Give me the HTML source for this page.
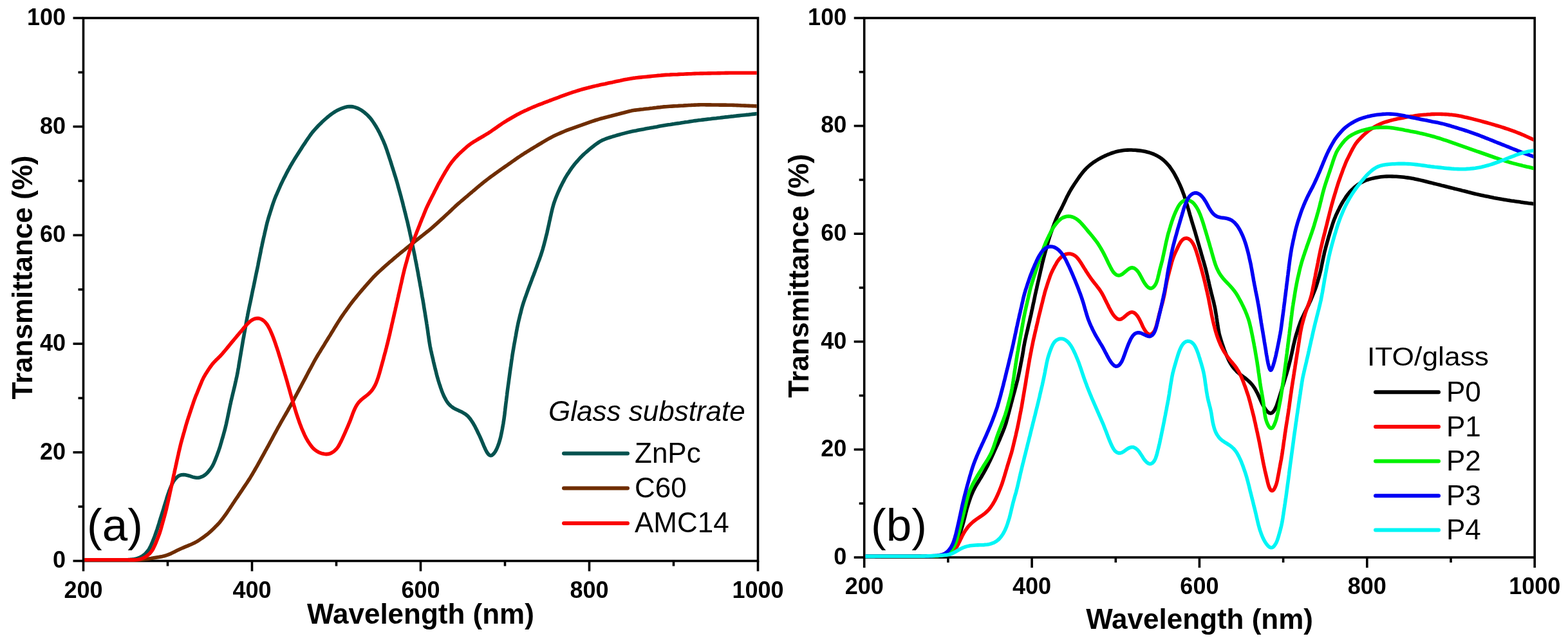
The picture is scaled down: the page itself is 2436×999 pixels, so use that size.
<!DOCTYPE html>
<html><head><meta charset="utf-8"><title>Transmittance spectra</title>
<style>html,body{margin:0;padding:0;background:#fff;width:2436px;height:999px;overflow:hidden}svg{display:block}</style>
</head><body>
<svg width="2436" height="999" viewBox="0 0 2436 999">
<rect width="2436" height="999" fill="#fff"/>
<g stroke="#000" stroke-width="3.6" stroke-linecap="butt"><line x1="113.5" y1="871.5" x2="129.5" y2="871.5"/><line x1="121.5" y1="787.1" x2="129.5" y2="787.1"/><line x1="113.5" y1="702.8" x2="129.5" y2="702.8"/><line x1="121.5" y1="618.5" x2="129.5" y2="618.5"/><line x1="113.5" y1="534.1" x2="129.5" y2="534.1"/><line x1="121.5" y1="449.8" x2="129.5" y2="449.8"/><line x1="113.5" y1="365.4" x2="129.5" y2="365.4"/><line x1="121.5" y1="281.0" x2="129.5" y2="281.0"/><line x1="113.5" y1="196.7" x2="129.5" y2="196.7"/><line x1="121.5" y1="112.4" x2="129.5" y2="112.4"/><line x1="113.5" y1="28.0" x2="129.5" y2="28.0"/><line x1="129.5" y1="871.5" x2="129.5" y2="887.5"/><line x1="260.5" y1="871.5" x2="260.5" y2="879.5"/><line x1="391.5" y1="871.5" x2="391.5" y2="887.5"/><line x1="522.5" y1="871.5" x2="522.5" y2="879.5"/><line x1="653.5" y1="871.5" x2="653.5" y2="887.5"/><line x1="784.5" y1="871.5" x2="784.5" y2="879.5"/><line x1="915.5" y1="871.5" x2="915.5" y2="887.5"/><line x1="1046.5" y1="871.5" x2="1046.5" y2="879.5"/><line x1="1177.5" y1="871.5" x2="1177.5" y2="887.5"/></g>
<rect x="129.5" y="28.0" width="1048.0" height="843.5" fill="none" stroke="#000" stroke-width="3.6"/>
<clipPath id="c129"><rect x="131.3" y="29.8" width="1044.4" height="849.5"/></clipPath>
<g clip-path="url(#c129)" fill="none" stroke-width="5.6" stroke-linejoin="round" stroke-linecap="round">
<path d="M130.0,869.8L133.0,869.8 136.0,869.8 139.0,869.8 142.0,869.8 145.0,869.8 148.0,869.7 151.0,869.7 154.0,869.7 157.0,869.7 160.0,869.7 163.0,869.7 166.0,869.7 169.0,869.7 172.0,869.7 175.0,869.7 178.0,869.7 181.0,869.7 184.0,869.7 187.0,869.7 190.0,869.8 193.0,869.8 196.0,869.7 199.0,869.6 202.0,869.4 205.0,869.1 208.0,868.7 210.9,868.2 213.8,867.4 216.6,866.4 219.2,865.1 221.7,863.5 224.1,861.7 226.3,859.7 228.3,857.5 230.1,855.2 231.8,852.7 233.2,850.1 234.5,847.4 235.7,844.6 236.9,841.8 238.0,839.0 239.1,836.2 240.2,833.4 241.2,830.6 242.2,827.8 243.2,824.9 244.2,822.1 245.1,819.2 246.0,816.4 246.9,813.5 247.7,810.7 248.6,807.8 249.5,804.9 250.4,802.1 251.3,799.2 252.2,796.3 253.1,793.5 254.0,790.6 254.8,787.8 255.7,784.9 256.6,782.0 257.5,779.2 258.4,776.3 259.2,773.4 260.1,770.6 261.1,767.7 262.1,764.9 263.1,762.0 264.2,759.2 265.3,756.4 266.6,753.6 267.9,750.8 269.3,748.2 271.0,745.7 272.9,743.4 274.9,741.4 277.2,739.6 279.6,738.4 282.2,737.7 285.0,737.5 287.8,737.8 290.8,738.4 293.7,739.2 296.6,740.2 299.5,741.1 302.4,741.8 305.2,742.3 308.1,742.2 310.8,741.7 313.5,740.7 316.1,739.4 318.5,737.8 320.8,735.9 322.9,733.7 324.8,731.4 326.7,729.0 328.4,726.5 330.0,724.0 331.4,721.3 332.6,718.6 333.8,715.8 334.9,713.1 336.0,710.3 337.1,707.4 338.1,704.6 339.2,701.8 340.1,699.0 341.1,696.1 342.0,693.3 342.8,690.4 343.7,687.5 344.5,684.6 345.3,681.8 346.2,678.9 347.0,676.0 347.8,673.1 348.6,670.2 349.4,667.3 350.1,664.4 350.8,661.5 351.5,658.6 352.1,655.7 352.8,652.7 353.4,649.8 354.0,646.9 354.6,643.9 355.2,641.0 355.8,638.1 356.4,635.1 357.0,632.2 357.6,629.3 358.3,626.3 358.9,623.4 359.6,620.5 360.3,617.6 361.0,614.6 361.7,611.7 362.4,608.8 363.1,605.9 363.8,603.0 364.5,600.1 365.2,597.2 365.8,594.2 366.5,591.3 367.1,588.4 367.8,585.4 368.4,582.5 369.0,579.6 369.5,576.6 370.0,573.7 370.6,570.7 371.0,567.8 371.5,564.8 372.0,561.8 372.5,558.9 373.0,555.9 373.5,553.0 374.0,550.0 374.5,547.1 375.0,544.1 375.5,541.1 376.0,538.2 376.5,535.2 377.0,532.3 377.5,529.3 378.0,526.4 378.6,523.4 379.1,520.5 379.6,517.5 380.2,514.6 380.7,511.6 381.2,508.7 381.8,505.7 382.3,502.8 382.8,499.8 383.4,496.9 383.9,493.9 384.5,491.0 385.0,488.0 385.6,485.1 386.2,482.2 386.8,479.2 387.4,476.3 388.0,473.4 388.7,470.4 389.3,467.5 389.9,464.6 390.5,461.6 391.1,458.7 391.7,455.7 392.3,452.8 392.9,449.9 393.6,446.9 394.2,444.0 394.8,441.1 395.4,438.1 396.0,435.2 396.6,432.3 397.2,429.3 397.8,426.4 398.4,423.5 399.1,420.5 399.7,417.6 400.3,414.7 400.9,411.7 401.4,408.8 402.0,405.8 402.6,402.9 403.2,400.0 403.8,397.0 404.4,394.1 405.0,391.1 405.5,388.2 406.1,385.3 406.8,382.3 407.4,379.4 408.0,376.5 408.7,373.5 409.3,370.6 410.0,367.7 410.7,364.8 411.3,361.8 412.0,358.9 412.7,356.0 413.3,353.1 414.0,350.2 414.7,347.3 415.5,344.3 416.3,341.5 417.1,338.6 418.0,335.7 418.9,332.9 419.8,330.0 420.7,327.1 421.6,324.3 422.5,321.4 423.4,318.6 424.4,315.7 425.4,312.9 426.4,310.1 427.5,307.3 428.6,304.5 429.8,301.8 431.0,299.0 432.2,296.3 433.4,293.5 434.6,290.8 435.8,288.0 437.1,285.3 438.4,282.6 439.7,279.9 441.0,277.2 442.4,274.6 443.8,271.9 445.1,269.2 446.5,266.6 447.9,263.9 449.4,261.3 450.8,258.7 452.3,256.1 453.8,253.5 455.4,250.9 456.9,248.4 458.5,245.8 460.1,243.3 461.7,240.8 463.3,238.2 464.9,235.7 466.5,233.2 468.2,230.6 469.8,228.1 471.4,225.6 473.1,223.1 474.8,220.6 476.4,218.1 478.1,215.7 479.8,213.2 481.5,210.7 483.3,208.3 485.1,205.9 487.0,203.6 489.0,201.4 491.0,199.2 493.0,197.0 495.1,194.8 497.2,192.7 499.4,190.6 501.5,188.5 503.7,186.5 506.0,184.5 508.3,182.5 510.6,180.6 512.9,178.8 515.3,177.0 517.8,175.3 520.3,173.6 522.9,172.1 525.6,170.8 528.3,169.5 531.1,168.3 533.9,167.3 536.8,166.4 539.7,165.8 542.6,165.5 545.6,165.6 548.5,165.9 551.3,166.6 554.1,167.6 556.9,168.7 559.5,170.1 562.1,171.7 564.5,173.4 566.9,175.3 569.2,177.3 571.3,179.3 573.4,181.5 575.4,183.7 577.3,186.1 579.0,188.5 580.7,191.0 582.3,193.5 583.9,196.0 585.4,198.6 586.9,201.2 588.3,203.9 589.7,206.5 591.0,209.2 592.3,211.9 593.5,214.7 594.8,217.4 596.0,220.1 597.1,222.9 598.3,225.7 599.3,228.5 600.3,231.3 601.3,234.1 602.2,237.0 603.2,239.8 604.1,242.7 605.0,245.5 606.0,248.4 606.9,251.2 607.8,254.1 608.7,257.0 609.6,259.8 610.5,262.7 611.4,265.5 612.3,268.4 613.2,271.3 614.1,274.1 615.0,277.0 615.8,279.9 616.7,282.7 617.5,285.6 618.3,288.5 619.1,291.4 619.9,294.3 620.7,297.2 621.5,300.1 622.3,303.0 623.1,305.8 623.8,308.7 624.6,311.6 625.4,314.5 626.1,317.4 626.8,320.4 627.6,323.3 628.3,326.2 629.0,329.1 629.8,332.0 630.5,334.9 631.2,337.8 631.9,340.7 632.7,343.6 633.4,346.5 634.0,349.5 634.7,352.4 635.4,355.3 636.0,358.2 636.7,361.2 637.3,364.1 638.0,367.0 638.6,369.9 639.2,372.9 639.9,375.8 640.5,378.7 641.1,381.7 641.7,384.6 642.3,387.5 642.9,390.5 643.5,393.4 644.1,396.4 644.7,399.3 645.2,402.2 645.8,405.2 646.4,408.1 647.0,411.1 647.5,414.0 648.1,417.0 648.6,419.9 649.2,422.8 649.7,425.8 650.2,428.7 650.8,431.7 651.3,434.6 651.9,437.6 652.4,440.5 652.9,443.5 653.5,446.4 654.0,449.4 654.5,452.3 655.0,455.3 655.5,458.3 656.0,461.2 656.6,464.2 657.1,467.1 657.6,470.1 658.1,473.0 658.5,476.0 659.0,478.9 659.5,481.9 660.0,484.9 660.5,487.8 660.9,490.8 661.4,493.7 661.9,496.7 662.4,499.7 662.8,502.6 663.3,505.6 663.7,508.6 664.2,511.5 664.6,514.5 665.0,517.5 665.4,520.4 665.9,523.4 666.3,526.4 666.7,529.3 667.2,532.3 667.7,535.2 668.2,538.2 668.8,541.1 669.4,544.1 670.1,547.0 670.7,549.9 671.4,552.8 672.1,555.8 672.8,558.7 673.4,561.6 674.1,564.5 674.8,567.4 675.5,570.3 676.2,573.3 677.0,576.2 677.7,579.1 678.4,582.0 679.2,584.9 680.0,587.8 680.8,590.6 681.7,593.5 682.6,596.4 683.6,599.2 684.5,602.1 685.5,604.9 686.5,607.7 687.6,610.5 688.8,613.3 690.0,616.1 691.4,618.7 692.8,621.4 694.3,623.9 696.1,626.3 698.0,628.5 700.1,630.6 702.4,632.4 704.9,634.1 707.5,635.5 710.2,636.8 712.9,638.1 715.7,639.3 718.3,640.6 720.9,642.1 723.4,643.7 725.7,645.5 727.8,647.6 729.7,649.8 731.5,652.2 733.2,654.7 734.8,657.2 736.3,659.8 737.8,662.4 739.1,665.1 740.5,667.8 741.8,670.5 743.1,673.2 744.4,675.9 745.7,678.6 746.9,681.4 748.1,684.2 749.3,687.0 750.5,689.9 751.7,692.8 753.0,695.7 754.3,698.5 755.7,701.2 757.2,703.7 758.8,705.8 760.4,707.2 762.2,707.8 764.0,707.4 765.8,706.1 767.6,704.2 769.3,701.9 770.8,699.2 772.1,696.4 773.3,693.5 774.4,690.6 775.4,687.6 776.3,684.7 777.1,681.7 777.9,678.8 778.5,675.9 779.1,672.9 779.7,670.0 780.3,667.0 780.8,664.1 781.3,661.2 781.9,658.2 782.3,655.2 782.8,652.3 783.2,649.3 783.6,646.3 784.0,643.4 784.3,640.4 784.7,637.4 785.0,634.4 785.4,631.5 785.7,628.5 786.1,625.5 786.5,622.5 786.8,619.6 787.2,616.6 787.6,613.6 787.9,610.6 788.3,607.7 788.7,604.7 789.1,601.7 789.5,598.7 789.9,595.8 790.3,592.8 790.7,589.8 791.1,586.9 791.5,583.9 791.9,580.9 792.3,577.9 792.7,575.0 793.1,572.0 793.6,569.0 794.0,566.1 794.4,563.1 794.8,560.1 795.3,557.2 795.7,554.2 796.1,551.2 796.6,548.3 797.1,545.3 797.6,542.4 798.1,539.4 798.6,536.5 799.1,533.5 799.7,530.6 800.2,527.6 800.7,524.7 801.3,521.7 801.8,518.8 802.3,515.8 802.9,512.9 803.4,509.9 804.0,507.0 804.6,504.0 805.2,501.1 805.9,498.2 806.6,495.3 807.3,492.4 808.0,489.4 808.8,486.5 809.5,483.6 810.2,480.7 811.0,477.8 811.8,474.9 812.7,472.1 813.6,469.2 814.6,466.4 815.5,463.6 816.6,460.7 817.6,457.9 818.6,455.1 819.6,452.3 820.6,449.5 821.7,446.6 822.7,443.8 823.8,441.0 824.8,438.2 825.9,435.4 826.9,432.6 828.0,429.8 829.1,427.0 830.1,424.2 831.2,421.4 832.2,418.6 833.3,415.8 834.3,413.0 835.3,410.1 836.3,407.3 837.4,404.5 838.4,401.7 839.4,398.9 840.4,396.0 841.3,393.2 842.2,390.3 843.1,387.5 843.9,384.6 844.7,381.7 845.5,378.8 846.2,375.9 847.0,373.0 847.7,370.1 848.4,367.2 849.2,364.3 849.9,361.4 850.5,358.4 851.2,355.5 851.8,352.6 852.5,349.7 853.1,346.7 853.7,343.8 854.4,340.9 855.0,337.9 855.7,335.0 856.3,332.1 857.0,329.2 857.7,326.2 858.4,323.3 859.2,320.4 860.0,317.6 860.9,314.7 861.9,311.9 862.9,309.1 864.0,306.3 865.1,303.5 866.3,300.7 867.4,298.0 868.7,295.2 869.9,292.5 871.2,289.8 872.6,287.1 873.9,284.4 875.3,281.8 876.7,279.1 878.1,276.5 879.7,273.9 881.2,271.4 882.9,268.9 884.5,266.4 886.2,263.9 887.9,261.4 889.7,259.0 891.5,256.6 893.4,254.3 895.3,252.0 897.3,249.8 899.3,247.5 901.3,245.3 903.4,243.2 905.5,241.1 907.7,239.0 910.0,237.0 912.2,235.1 914.5,233.1 916.8,231.2 919.2,229.3 921.5,227.4 923.9,225.6 926.3,223.8 928.7,222.1 931.2,220.4 933.8,218.9 936.4,217.6 939.2,216.5 941.9,215.4 944.8,214.4 947.6,213.5 950.5,212.6 953.4,211.7 956.2,210.9 959.1,210.0 962.0,209.2 964.9,208.4 967.8,207.6 970.7,206.9 973.6,206.1 976.5,205.4 979.4,204.7 982.3,204.1 985.3,203.4 988.2,202.9 991.2,202.3 994.1,201.7 997.1,201.2 1000.0,200.7 1003.0,200.1 1005.9,199.6 1008.9,199.1 1011.8,198.5 1014.8,198.0 1017.7,197.4 1020.7,196.9 1023.6,196.3 1026.5,195.8 1029.5,195.3 1032.5,194.8 1035.4,194.3 1038.4,193.8 1041.3,193.4 1044.3,192.9 1047.3,192.5 1050.2,192.0 1053.2,191.6 1056.2,191.2 1059.1,190.7 1062.1,190.3 1065.1,189.8 1068.0,189.4 1071.0,188.9 1074.0,188.5 1076.9,188.1 1079.9,187.6 1082.9,187.2 1085.8,186.8 1088.8,186.5 1091.8,186.1 1094.8,185.7 1097.7,185.4 1100.7,185.0 1103.7,184.7 1106.7,184.3 1109.6,184.0 1112.6,183.7 1115.6,183.3 1118.6,183.0 1121.6,182.6 1124.5,182.2 1127.5,181.9 1130.5,181.6 1133.5,181.2 1136.4,180.9 1139.4,180.6 1142.4,180.2 1145.4,179.9 1148.4,179.6 1151.3,179.3 1154.3,179.0 1157.3,178.7 1160.3,178.4 1163.3,178.1 1166.3,177.7 1169.2,177.4 1172.2,177.1 1175.2,176.8" stroke="#03524f"/>
<path d="M130.0,869.8L133.0,869.8 136.0,869.8 139.0,869.8 142.0,869.8 145.0,869.8 148.0,869.8 151.0,869.8 154.0,869.7 157.0,869.7 160.0,869.7 163.0,869.7 166.0,869.7 168.9,869.7 171.9,869.7 174.9,869.7 177.9,869.7 180.9,869.7 183.9,869.7 186.9,869.7 189.9,869.7 192.9,869.7 195.9,869.7 198.9,869.7 201.9,869.7 204.9,869.7 207.9,869.7 210.9,869.7 213.9,869.6 216.9,869.6 219.9,869.4 222.8,869.1 225.8,868.8 228.8,868.4 231.8,868.0 234.7,867.6 237.7,867.1 240.6,866.6 243.6,866.1 246.6,865.6 249.5,865.0 252.4,864.4 255.3,863.7 258.2,862.9 261.0,861.9 263.7,860.8 266.5,859.6 269.2,858.3 271.8,857.0 274.5,855.6 277.2,854.3 279.9,853.0 282.7,851.8 285.4,850.6 288.2,849.4 290.9,848.3 293.7,847.1 296.5,846.0 299.2,844.8 301.9,843.5 304.5,842.1 307.1,840.6 309.6,839.0 312.1,837.3 314.6,835.6 317.0,833.9 319.4,832.1 321.8,830.3 324.1,828.4 326.4,826.4 328.6,824.4 330.8,822.3 332.9,820.2 335.0,818.1 337.1,816.0 339.2,813.8 341.2,811.6 343.1,809.3 344.9,806.9 346.8,804.5 348.5,802.1 350.3,799.7 352.0,797.3 353.7,794.8 355.4,792.3 357.1,789.8 358.7,787.3 360.4,784.8 362.0,782.3 363.7,779.8 365.3,777.3 367.0,774.8 368.7,772.4 370.3,769.9 372.0,767.4 373.7,764.9 375.4,762.4 377.0,759.9 378.7,757.4 380.4,754.9 382.0,752.5 383.7,750.0 385.3,747.5 387.0,744.9 388.6,742.4 390.1,739.9 391.7,737.3 393.2,734.7 394.7,732.1 396.2,729.5 397.7,726.9 399.2,724.3 400.7,721.7 402.1,719.1 403.6,716.5 405.0,713.9 406.5,711.2 407.9,708.6 409.4,706.0 410.8,703.4 412.2,700.7 413.7,698.1 415.1,695.5 416.6,692.9 418.0,690.2 419.4,687.6 420.8,685.0 422.3,682.3 423.7,679.7 425.1,677.0 426.5,674.4 427.9,671.8 429.4,669.1 430.8,666.5 432.2,663.9 433.7,661.3 435.2,658.6 436.6,656.0 438.1,653.4 439.6,650.8 441.1,648.2 442.6,645.6 444.1,643.0 445.6,640.4 447.1,637.8 448.5,635.2 450.0,632.6 451.5,630.0 452.9,627.4 454.4,624.8 455.8,622.1 457.2,619.5 458.6,616.8 460.0,614.2 461.4,611.5 462.8,608.9 464.2,606.3 465.6,603.6 467.1,601.0 468.5,598.3 469.9,595.7 471.3,593.0 472.7,590.4 474.1,587.8 475.5,585.1 476.9,582.5 478.3,579.8 479.7,577.2 481.1,574.5 482.6,571.9 484.0,569.2 485.4,566.6 486.8,564.0 488.2,561.3 489.7,558.7 491.2,556.1 492.7,553.5 494.2,551.0 495.8,548.4 497.4,545.9 498.9,543.3 500.5,540.8 502.1,538.2 503.7,535.7 505.2,533.1 506.8,530.6 508.4,528.0 509.9,525.5 511.5,522.9 513.1,520.4 514.6,517.8 516.2,515.2 517.8,512.7 519.3,510.1 520.9,507.6 522.4,505.0 524.0,502.5 525.6,499.9 527.2,497.4 528.8,494.9 530.5,492.4 532.2,489.9 533.9,487.5 535.6,485.0 537.4,482.6 539.1,480.1 540.9,477.7 542.6,475.3 544.4,472.9 546.2,470.5 548.0,468.1 549.9,465.8 551.8,463.4 553.7,461.1 555.6,458.8 557.5,456.5 559.4,454.2 561.4,451.9 563.3,449.6 565.3,447.4 567.2,445.1 569.2,442.9 571.2,440.6 573.2,438.4 575.2,436.1 577.2,433.9 579.2,431.7 581.2,429.5 583.3,427.4 585.5,425.3 587.6,423.2 589.8,421.2 592.0,419.2 594.3,417.1 596.5,415.1 598.7,413.2 601.0,411.2 603.2,409.2 605.5,407.2 607.8,405.3 610.1,403.3 612.3,401.4 614.6,399.5 616.9,397.5 619.2,395.6 621.5,393.7 623.9,391.8 626.2,389.9 628.5,388.1 630.8,386.2 633.2,384.3 635.5,382.4 637.8,380.5 640.2,378.7 642.5,376.8 644.9,374.9 647.2,373.0 649.5,371.2 651.9,369.3 654.2,367.5 656.6,365.6 658.9,363.8 661.3,361.9 663.6,360.0 666.0,358.2 668.3,356.3 670.6,354.4 672.9,352.4 675.1,350.4 677.4,348.4 679.6,346.4 681.8,344.4 684.0,342.4 686.2,340.4 688.5,338.4 690.7,336.3 692.8,334.3 695.0,332.2 697.2,330.2 699.4,328.1 701.6,326.1 703.7,324.0 705.9,322.0 708.1,319.9 710.3,317.9 712.6,315.9 714.8,314.0 717.1,312.0 719.4,310.1 721.7,308.1 724.0,306.2 726.3,304.3 728.5,302.3 730.8,300.4 733.1,298.5 735.4,296.5 737.7,294.6 740.0,292.6 742.3,290.7 744.5,288.8 746.9,286.9 749.2,285.0 751.5,283.1 753.9,281.3 756.3,279.4 758.6,277.6 761.0,275.8 763.4,274.0 765.9,272.3 768.3,270.5 770.7,268.7 773.1,267.0 775.6,265.3 778.0,263.5 780.5,261.8 782.9,260.1 785.4,258.4 787.8,256.7 790.3,254.9 792.8,253.2 795.2,251.5 797.7,249.8 800.1,248.1 802.6,246.3 805.0,244.6 807.5,243.0 810.0,241.3 812.5,239.7 815.0,238.0 817.6,236.5 820.1,234.9 822.7,233.3 825.2,231.7 827.8,230.2 830.3,228.6 832.9,227.1 835.5,225.5 838.0,224.0 840.6,222.5 843.2,220.9 845.8,219.4 848.3,217.9 850.9,216.4 853.5,214.9 856.2,213.5 858.8,212.1 861.5,210.8 864.2,209.5 867.0,208.3 869.7,207.1 872.4,205.9 875.2,204.7 878.0,203.5 880.7,202.4 883.5,201.3 886.3,200.3 889.2,199.3 892.0,198.3 894.8,197.3 897.6,196.3 900.5,195.3 903.3,194.4 906.1,193.4 909.0,192.4 911.8,191.4 914.6,190.4 917.4,189.4 920.3,188.4 923.1,187.5 926.0,186.5 928.8,185.7 931.7,184.8 934.6,184.0 937.5,183.3 940.4,182.5 943.3,181.8 946.2,181.0 949.1,180.3 952.0,179.5 954.9,178.8 957.8,178.0 960.7,177.3 963.6,176.5 966.5,175.7 969.4,175.0 972.3,174.2 975.2,173.5 978.1,172.8 981.0,172.1 983.9,171.6 986.9,171.1 989.9,170.7 992.8,170.4 995.8,170.0 998.8,169.7 1001.8,169.3 1004.7,169.0 1007.7,168.7 1010.7,168.3 1013.7,168.0 1016.7,167.6 1019.6,167.3 1022.6,166.9 1025.6,166.6 1028.6,166.2 1031.5,165.9 1034.5,165.7 1037.5,165.5 1040.5,165.3 1043.5,165.1 1046.5,164.9 1049.5,164.7 1052.5,164.6 1055.4,164.4 1058.4,164.2 1061.4,164.1 1064.4,163.9 1067.4,163.7 1070.4,163.5 1073.4,163.4 1076.4,163.2 1079.4,163.1 1082.4,163.0 1085.4,162.9 1088.4,162.8 1091.4,162.8 1094.3,162.8 1097.3,162.9 1100.3,162.9 1103.3,162.9 1106.3,163.0 1109.3,163.0 1112.3,163.0 1115.3,163.0 1118.3,163.1 1121.3,163.1 1124.3,163.1 1127.3,163.1 1130.3,163.2 1133.3,163.2 1136.3,163.3 1139.3,163.4 1142.3,163.5 1145.3,163.6 1148.3,163.7 1151.3,163.9 1154.2,164.0 1157.2,164.1 1160.2,164.3 1163.2,164.4 1166.2,164.5 1169.2,164.6 1172.2,164.8 1175.2,164.9" stroke="#6f2d00"/>
<path d="M130.0,869.8L133.0,869.8 136.0,869.8 139.0,869.8 142.0,869.8 145.0,869.8 148.0,869.8 151.0,869.8 154.0,869.7 157.0,869.7 160.0,869.7 163.0,869.7 166.0,869.7 169.0,869.7 172.0,869.7 175.0,869.7 178.0,869.7 181.0,869.7 184.0,869.7 187.0,869.7 190.0,869.7 193.0,869.7 196.0,869.8 199.0,869.8 202.0,869.9 205.1,869.9 208.1,869.9 211.1,869.8 214.0,869.4 217.0,868.9 219.8,868.1 222.5,867.0 225.2,865.7 227.7,864.1 230.0,862.2 232.2,860.3 234.2,858.1 236.0,855.7 237.6,853.2 238.9,850.6 240.2,847.9 241.4,845.1 242.6,842.3 243.7,839.5 244.8,836.7 245.9,833.9 247.0,831.1 248.0,828.3 248.9,825.5 249.8,822.6 250.6,819.7 251.4,816.8 252.2,813.9 253.0,811.1 253.8,808.2 254.6,805.3 255.4,802.4 256.2,799.5 257.0,796.6 257.7,793.7 258.5,790.8 259.1,787.9 259.8,784.9 260.5,782.0 261.1,779.1 261.8,776.2 262.4,773.2 263.1,770.3 263.7,767.4 264.3,764.4 265.0,761.5 265.6,758.6 266.3,755.7 266.9,752.7 267.5,749.8 268.2,746.9 268.8,743.9 269.4,741.0 270.0,738.1 270.7,735.1 271.3,732.2 271.9,729.3 272.6,726.3 273.2,723.4 273.9,720.5 274.5,717.5 275.1,714.6 275.8,711.7 276.4,708.8 277.1,705.8 277.7,702.9 278.4,700.0 279.1,697.1 279.8,694.1 280.5,691.2 281.2,688.3 282.0,685.4 282.8,682.6 283.6,679.7 284.4,676.8 285.2,673.9 286.1,671.0 286.9,668.1 287.7,665.2 288.5,662.3 289.3,659.5 290.2,656.6 291.1,653.7 292.0,650.9 292.9,648.0 293.9,645.2 294.8,642.3 295.8,639.5 296.7,636.6 297.7,633.8 298.6,630.9 299.6,628.1 300.5,625.3 301.5,622.4 302.6,619.6 303.6,616.8 304.7,614.0 305.9,611.3 307.0,608.5 308.1,605.7 309.2,602.9 310.4,600.1 311.5,597.4 312.7,594.6 313.8,591.8 315.1,589.1 316.4,586.4 317.9,583.8 319.4,581.2 321.0,578.7 322.6,576.2 324.2,573.7 325.9,571.2 327.7,568.8 329.4,566.4 331.3,564.1 333.3,561.9 335.4,559.8 337.5,557.7 339.7,555.6 341.8,553.5 343.8,551.3 345.8,549.1 347.7,546.8 349.7,544.5 351.6,542.2 353.5,539.9 355.4,537.6 357.3,535.2 359.2,532.9 361.1,530.6 363.1,528.3 365.0,526.0 366.9,523.7 368.8,521.4 370.8,519.1 372.7,516.8 374.6,514.6 376.6,512.2 378.5,509.9 380.5,507.6 382.5,505.3 384.6,503.1 386.8,500.9 389.0,499.0 391.5,497.3 394.1,495.9 396.7,495.0 399.4,494.5 402.1,494.6 404.7,495.4 407.2,496.6 409.6,498.3 411.8,500.3 413.7,502.5 415.5,505.0 417.0,507.6 418.4,510.3 419.8,513.0 421.0,515.8 422.2,518.6 423.4,521.4 424.5,524.2 425.5,527.0 426.5,529.8 427.5,532.7 428.5,535.5 429.4,538.3 430.4,541.2 431.3,544.0 432.3,546.9 433.1,549.7 434.0,552.6 434.9,555.5 435.8,558.3 436.6,561.2 437.5,564.1 438.3,567.0 439.2,569.8 440.0,572.7 440.9,575.6 441.8,578.5 442.6,581.3 443.5,584.2 444.3,587.1 445.2,590.0 446.0,592.8 446.8,595.7 447.6,598.6 448.5,601.5 449.3,604.4 450.1,607.3 450.9,610.2 451.7,613.0 452.5,615.9 453.4,618.8 454.2,621.7 455.1,624.6 455.9,627.4 456.8,630.3 457.7,633.2 458.5,636.0 459.4,638.9 460.3,641.8 461.2,644.6 462.2,647.5 463.1,650.3 464.1,653.1 465.1,656.0 466.1,658.8 467.2,661.6 468.3,664.4 469.4,667.2 470.6,669.9 471.8,672.7 473.0,675.4 474.3,678.1 475.7,680.8 477.2,683.4 478.7,686.0 480.4,688.5 482.1,691.0 483.9,693.4 485.8,695.7 487.9,697.8 490.2,699.6 492.7,701.3 495.3,702.7 498.1,703.9 501.0,704.8 503.9,705.3 506.8,705.6 509.7,705.4 512.4,704.8 515.0,703.7 517.5,702.2 519.8,700.3 521.9,698.3 523.9,696.0 525.6,693.6 527.1,691.0 528.5,688.3 529.9,685.6 531.2,682.9 532.5,680.1 533.7,677.4 535.0,674.6 536.2,671.9 537.4,669.2 538.6,666.4 539.8,663.7 541.0,660.9 542.1,658.1 543.3,655.4 544.4,652.6 545.4,649.8 546.5,646.9 547.5,644.1 548.6,641.3 549.7,638.5 550.9,635.8 552.2,633.1 553.6,630.5 555.2,628.0 556.9,625.6 558.9,623.4 561.0,621.3 563.3,619.4 565.7,617.5 568.1,615.7 570.4,613.8 572.7,611.9 574.8,609.8 576.8,607.6 578.7,605.3 580.3,602.8 581.8,600.3 583.2,597.6 584.4,594.9 585.5,592.1 586.5,589.3 587.5,586.4 588.4,583.5 589.3,580.7 590.1,577.8 590.9,574.9 591.7,572.0 592.5,569.1 593.3,566.2 594.1,563.3 594.9,560.4 595.7,557.5 596.4,554.6 597.2,551.7 598.0,548.8 598.8,546.0 599.5,543.1 600.3,540.1 601.0,537.2 601.8,534.3 602.5,531.4 603.2,528.5 603.9,525.6 604.6,522.7 605.3,519.8 606.0,516.8 606.6,513.9 607.3,511.0 608.0,508.1 608.6,505.1 609.3,502.2 610.0,499.3 610.6,496.4 611.3,493.4 612.0,490.5 612.6,487.6 613.3,484.7 614.0,481.8 614.6,478.8 615.3,475.9 615.9,473.0 616.6,470.1 617.3,467.1 617.9,464.2 618.6,461.3 619.2,458.4 619.9,455.4 620.6,452.5 621.2,449.6 621.9,446.7 622.5,443.7 623.2,440.8 623.9,437.9 624.5,434.9 625.2,432.0 625.8,429.1 626.5,426.2 627.2,423.3 627.9,420.3 628.6,417.4 629.4,414.5 630.2,411.6 631.0,408.7 631.8,405.9 632.6,403.0 633.4,400.1 634.2,397.2 635.0,394.3 635.9,391.4 636.8,388.6 637.8,385.8 638.8,382.9 639.8,380.1 640.9,377.3 642.0,374.5 643.1,371.7 644.2,368.9 645.3,366.2 646.4,363.4 647.5,360.6 648.6,357.8 649.7,355.0 650.8,352.2 651.9,349.4 653.0,346.6 654.1,343.9 655.2,341.1 656.3,338.3 657.5,335.5 658.6,332.7 659.7,329.9 660.8,327.2 662.0,324.4 663.2,321.7 664.5,319.0 665.8,316.3 667.1,313.6 668.5,310.9 669.8,308.2 671.2,305.5 672.5,302.9 673.9,300.2 675.2,297.5 676.6,294.8 678.0,292.2 679.3,289.5 680.7,286.8 682.1,284.2 683.6,281.6 685.0,278.9 686.5,276.3 688.0,273.7 689.5,271.1 691.0,268.5 692.5,265.9 694.1,263.4 695.7,260.8 697.3,258.3 699.0,255.8 700.7,253.4 702.5,251.0 704.4,248.7 706.3,246.4 708.3,244.2 710.4,242.0 712.5,239.8 714.6,237.8 716.8,235.7 719.0,233.7 721.3,231.7 723.5,229.7 725.8,227.7 728.1,225.8 730.5,224.0 732.9,222.3 735.4,220.7 738.0,219.1 740.5,217.6 743.1,216.0 745.7,214.5 748.3,213.0 750.9,211.5 753.5,209.9 756.0,208.4 758.6,206.8 761.1,205.2 763.6,203.5 766.0,201.8 768.5,200.1 771.0,198.4 773.4,196.6 775.9,194.9 778.3,193.2 780.8,191.5 783.3,189.9 785.9,188.3 788.4,186.7 791.0,185.2 793.6,183.7 796.2,182.2 798.8,180.7 801.4,179.2 804.0,177.8 806.7,176.4 809.3,175.0 812.0,173.7 814.7,172.4 817.5,171.2 820.2,169.9 822.9,168.7 825.7,167.5 828.4,166.3 831.2,165.2 834.0,164.0 836.8,162.9 839.6,161.8 842.4,160.8 845.2,159.7 848.0,158.7 850.8,157.6 853.6,156.5 856.4,155.5 859.2,154.4 862.0,153.4 864.8,152.3 867.6,151.3 870.4,150.2 873.2,149.2 876.1,148.1 878.9,147.1 881.7,146.1 884.5,145.1 887.4,144.2 890.2,143.2 893.1,142.3 895.9,141.4 898.8,140.5 901.7,139.6 904.5,138.8 907.4,138.0 910.3,137.2 913.2,136.5 916.1,135.7 919.1,135.0 922.0,134.3 924.9,133.6 927.8,132.9 930.7,132.3 933.7,131.6 936.6,131.0 939.5,130.4 942.5,129.7 945.4,129.1 948.3,128.5 951.3,127.9 954.2,127.2 957.1,126.6 960.1,126.0 963.0,125.4 965.9,124.7 968.9,124.1 971.8,123.5 974.7,123.0 977.7,122.4 980.6,121.9 983.6,121.4 986.6,121.1 989.5,120.7 992.5,120.4 995.5,120.1 998.5,119.8 1001.5,119.5 1004.5,119.2 1007.5,118.9 1010.4,118.6 1013.4,118.3 1016.4,118.0 1019.4,117.7 1022.4,117.4 1025.4,117.2 1028.3,116.9 1031.3,116.6 1034.3,116.4 1037.3,116.2 1040.3,116.1 1043.3,115.9 1046.3,115.8 1049.3,115.7 1052.3,115.6 1055.3,115.4 1058.3,115.3 1061.3,115.2 1064.3,115.0 1067.3,114.9 1070.3,114.8 1073.3,114.7 1076.3,114.5 1079.3,114.4 1082.2,114.3 1085.2,114.2 1088.2,114.1 1091.2,114.1 1094.2,114.0 1097.2,114.0 1100.2,113.9 1103.2,113.9 1106.2,113.8 1109.2,113.8 1112.2,113.7 1115.2,113.6 1118.2,113.6 1121.2,113.5 1124.2,113.5 1127.2,113.4 1130.2,113.4 1133.2,113.3 1136.2,113.3 1139.2,113.3 1142.2,113.3 1145.2,113.3 1148.2,113.3 1151.2,113.3 1154.2,113.3 1157.2,113.3 1160.2,113.3 1163.2,113.3 1166.2,113.3 1169.2,113.3 1172.2,113.3 1175.2,113.3" stroke="#fa0000"/>
</g>
<g font-family='"Liberation Sans", Arial, Helvetica, sans-serif' font-weight="bold" font-size="36" fill="#000"><text x="102.0" y="882.3" text-anchor="end">0</text><text x="102.0" y="713.6" text-anchor="end">20</text><text x="102.0" y="544.9" text-anchor="end">40</text><text x="102.0" y="376.2" text-anchor="end">60</text><text x="102.0" y="207.5" text-anchor="end">80</text><text x="102.0" y="38.8" text-anchor="end">100</text><text x="129.5" y="928.5" text-anchor="middle">200</text><text x="391.5" y="928.5" text-anchor="middle">400</text><text x="653.5" y="928.5" text-anchor="middle">600</text><text x="915.5" y="928.5" text-anchor="middle">800</text><text x="1177.5" y="928.5" text-anchor="middle">1000</text></g>

<g font-family='"Liberation Sans", Arial, Helvetica, sans-serif' fill="#000">
<text x="653.5" y="969" font-size="44" font-weight="bold" text-anchor="middle">Wavelength (nm)</text>
<text transform="translate(49.5,431) rotate(-90)" font-size="44" font-weight="bold" text-anchor="middle">Transmittance (%)</text>
<text x="852" y="654" font-size="44" font-style="italic">Glass substrate</text>
<text x="986" y="719" font-size="44">ZnPc</text>
<text x="986" y="773" font-size="44">C60</text>
<text x="986" y="827" font-size="44">AMC14</text>
<text x="135" y="840" font-size="71">(a)</text>
</g>
<g stroke-width="6" stroke-linecap="round">
<line x1="876" y1="704.5" x2="975" y2="704.5" stroke="#03524f"/>
<line x1="876" y1="758.5" x2="975" y2="758.5" stroke="#6f2d00"/>
<line x1="876" y1="813" x2="975" y2="813" stroke="#fa0000"/>
</g>

<g stroke="#000" stroke-width="3.6" stroke-linecap="butt"><line x1="1326.7" y1="866.0" x2="1342.7" y2="866.0"/><line x1="1334.7" y1="782.2" x2="1342.7" y2="782.2"/><line x1="1326.7" y1="698.4" x2="1342.7" y2="698.4"/><line x1="1334.7" y1="614.6" x2="1342.7" y2="614.6"/><line x1="1326.7" y1="530.8" x2="1342.7" y2="530.8"/><line x1="1334.7" y1="447.0" x2="1342.7" y2="447.0"/><line x1="1326.7" y1="363.2" x2="1342.7" y2="363.2"/><line x1="1334.7" y1="279.4" x2="1342.7" y2="279.4"/><line x1="1326.7" y1="195.6" x2="1342.7" y2="195.6"/><line x1="1334.7" y1="111.8" x2="1342.7" y2="111.8"/><line x1="1326.7" y1="28.0" x2="1342.7" y2="28.0"/><line x1="1342.7" y1="866.0" x2="1342.7" y2="882.0"/><line x1="1472.9" y1="866.0" x2="1472.9" y2="874.0"/><line x1="1603.1" y1="866.0" x2="1603.1" y2="882.0"/><line x1="1733.3" y1="866.0" x2="1733.3" y2="874.0"/><line x1="1863.4" y1="866.0" x2="1863.4" y2="882.0"/><line x1="1993.6" y1="866.0" x2="1993.6" y2="874.0"/><line x1="2123.8" y1="866.0" x2="2123.8" y2="882.0"/><line x1="2254.0" y1="866.0" x2="2254.0" y2="874.0"/><line x1="2384.2" y1="866.0" x2="2384.2" y2="882.0"/></g>
<rect x="1342.7" y="28.0" width="1041.5" height="838.0" fill="none" stroke="#000" stroke-width="3.6"/>
<clipPath id="c1342"><rect x="1344.5" y="29.8" width="1037.9" height="844.0"/></clipPath>
<g clip-path="url(#c1342)" fill="none" stroke-width="5.6" stroke-linejoin="round" stroke-linecap="round">
<path d="M1342.7,864.4L1345.7,864.4 1348.7,864.4 1351.7,864.4 1354.7,864.4 1357.7,864.4 1360.7,864.4 1363.7,864.4 1366.7,864.4 1369.7,864.3 1372.7,864.3 1375.7,864.3 1378.7,864.3 1381.7,864.3 1384.7,864.3 1387.7,864.3 1390.7,864.3 1393.7,864.3 1396.7,864.3 1399.7,864.3 1402.7,864.3 1405.7,864.3 1408.6,864.3 1411.6,864.3 1414.6,864.3 1417.6,864.3 1420.6,864.3 1423.6,864.2 1426.6,864.2 1429.6,864.2 1432.6,864.2 1435.6,864.2 1438.6,864.2 1441.6,864.1 1444.6,864.1 1447.6,864.0 1450.6,863.9 1453.7,863.7 1456.7,863.5 1459.7,863.2 1462.6,862.7 1465.6,862.2 1468.5,861.4 1471.3,860.4 1473.9,859.1 1476.4,857.6 1478.7,855.8 1480.7,853.7 1482.5,851.4 1483.9,848.9 1485.2,846.2 1486.4,843.4 1487.5,840.6 1488.5,837.8 1489.5,834.9 1490.4,832.0 1491.4,829.2 1492.3,826.3 1493.2,823.4 1494.1,820.6 1495.0,817.7 1495.8,814.8 1496.6,811.9 1497.4,809.1 1498.1,806.2 1498.9,803.2 1499.6,800.3 1500.3,797.4 1501.1,794.5 1501.8,791.6 1502.6,788.7 1503.5,785.9 1504.3,783.0 1505.3,780.1 1506.2,777.3 1507.2,774.5 1508.2,771.6 1509.3,768.9 1510.5,766.1 1511.7,763.4 1513.0,760.7 1514.4,758.0 1515.8,755.4 1517.3,752.8 1518.9,750.2 1520.4,747.7 1522.0,745.1 1523.6,742.6 1525.1,740.0 1526.6,737.4 1528.1,734.8 1529.6,732.2 1531.0,729.6 1532.4,726.9 1533.8,724.3 1535.2,721.6 1536.5,718.9 1537.8,716.2 1539.1,713.5 1540.4,710.8 1541.6,708.1 1542.9,705.3 1544.1,702.6 1545.3,699.9 1546.6,697.1 1547.8,694.4 1549.1,691.7 1550.3,689.0 1551.5,686.2 1552.7,683.5 1553.9,680.7 1555.0,678.0 1556.2,675.2 1557.3,672.4 1558.5,669.6 1559.6,666.8 1560.6,664.1 1561.6,661.2 1562.6,658.4 1563.4,655.5 1564.2,652.6 1565.0,649.7 1565.8,646.8 1566.5,643.9 1567.3,641.0 1568.1,638.1 1568.8,635.2 1569.6,632.3 1570.4,629.4 1571.1,626.6 1571.9,623.7 1572.7,620.8 1573.4,617.9 1574.2,615.0 1575.0,612.1 1575.8,609.2 1576.6,606.3 1577.3,603.4 1578.1,600.5 1578.9,597.6 1579.6,594.7 1580.4,591.8 1581.1,588.9 1581.7,586.0 1582.4,583.0 1583.0,580.1 1583.6,577.2 1584.2,574.2 1584.8,571.3 1585.4,568.3 1585.9,565.4 1586.5,562.5 1587.1,559.5 1587.6,556.6 1588.2,553.6 1588.7,550.7 1589.2,547.7 1589.7,544.7 1590.1,541.8 1590.6,538.8 1591.2,535.9 1591.7,532.9 1592.3,530.0 1592.9,527.1 1593.6,524.1 1594.2,521.2 1594.9,518.3 1595.6,515.4 1596.3,512.5 1597.0,509.5 1597.6,506.6 1598.3,503.7 1599.0,500.8 1599.7,497.9 1600.3,494.9 1601.0,492.0 1601.7,489.1 1602.3,486.2 1602.9,483.2 1603.6,480.3 1604.2,477.4 1604.8,474.4 1605.4,471.5 1606.1,468.6 1606.7,465.6 1607.3,462.7 1607.9,459.8 1608.5,456.8 1609.2,453.9 1609.8,451.0 1610.5,448.1 1611.1,445.1 1611.8,442.2 1612.4,439.3 1613.1,436.4 1613.8,433.4 1614.4,430.5 1615.1,427.6 1615.8,424.7 1616.4,421.8 1617.1,418.8 1617.8,415.9 1618.5,413.0 1619.1,410.1 1619.8,407.2 1620.6,404.2 1621.3,401.3 1622.1,398.4 1622.8,395.5 1623.6,392.7 1624.4,389.8 1625.2,386.9 1626.0,384.0 1626.8,381.1 1627.6,378.2 1628.4,375.3 1629.2,372.4 1630.1,369.6 1631.0,366.7 1632.0,363.9 1633.0,361.0 1634.0,358.2 1635.0,355.4 1636.0,352.6 1637.1,349.8 1638.1,347.0 1639.2,344.2 1640.3,341.4 1641.5,338.6 1642.7,335.9 1644.1,333.2 1645.4,330.6 1646.8,327.9 1648.2,325.3 1649.6,322.6 1650.9,319.9 1652.2,317.2 1653.5,314.5 1654.8,311.8 1656.0,309.1 1657.3,306.4 1658.7,303.7 1660.1,301.1 1661.5,298.4 1663.0,295.8 1664.5,293.3 1666.1,290.7 1667.7,288.2 1669.3,285.7 1671.0,283.2 1672.7,280.7 1674.4,278.2 1676.1,275.7 1677.9,273.3 1679.7,270.9 1681.5,268.6 1683.4,266.2 1685.4,264.0 1687.4,261.8 1689.6,259.8 1691.8,257.8 1694.1,255.8 1696.5,254.0 1698.9,252.2 1701.4,250.6 1703.9,249.0 1706.5,247.4 1709.1,246.0 1711.8,244.6 1714.4,243.2 1717.2,241.9 1719.9,240.7 1722.7,239.6 1725.4,238.5 1728.3,237.5 1731.1,236.6 1734.0,235.7 1736.9,235.0 1739.8,234.4 1742.8,233.9 1745.7,233.5 1748.7,233.2 1751.7,233.1 1754.7,233.0 1757.7,233.0 1760.7,233.2 1763.7,233.3 1766.7,233.6 1769.7,233.9 1772.7,234.3 1775.6,234.8 1778.6,235.3 1781.5,236.0 1784.4,236.7 1787.2,237.6 1790.1,238.6 1792.8,239.7 1795.6,241.0 1798.2,242.4 1800.8,243.9 1803.3,245.5 1805.7,247.3 1808.0,249.2 1810.2,251.2 1812.3,253.4 1814.3,255.6 1816.3,257.8 1818.1,260.2 1819.8,262.7 1821.5,265.2 1823.1,267.7 1824.6,270.3 1826.0,272.9 1827.4,275.6 1828.8,278.2 1830.1,280.9 1831.4,283.6 1832.7,286.4 1833.9,289.1 1835.1,291.9 1836.2,294.6 1837.3,297.4 1838.3,300.2 1839.4,303.0 1840.3,305.9 1841.3,308.7 1842.2,311.6 1843.1,314.4 1843.9,317.3 1844.8,320.2 1845.6,323.1 1846.5,325.9 1847.3,328.8 1848.1,331.7 1848.9,334.6 1849.8,337.5 1850.6,340.3 1851.4,343.2 1852.3,346.1 1853.2,349.0 1854.1,351.8 1854.9,354.7 1855.8,357.6 1856.7,360.4 1857.5,363.3 1858.3,366.2 1859.2,369.1 1860.0,372.0 1860.8,374.8 1861.6,377.7 1862.5,380.6 1863.3,383.5 1864.1,386.4 1865.0,389.2 1865.8,392.1 1866.6,395.0 1867.5,397.9 1868.3,400.8 1869.1,403.6 1870.0,406.5 1870.8,409.4 1871.6,412.3 1872.4,415.2 1873.2,418.1 1873.9,421.0 1874.6,423.9 1875.3,426.8 1876.0,429.7 1876.6,432.6 1877.3,435.6 1878.0,438.5 1878.6,441.4 1879.3,444.3 1880.0,447.3 1880.7,450.2 1881.4,453.1 1882.1,456.0 1882.9,458.9 1883.6,461.8 1884.3,464.7 1885.1,467.6 1885.8,470.5 1886.4,473.4 1887.1,476.4 1887.7,479.3 1888.2,482.3 1888.7,485.2 1889.2,488.2 1889.7,491.1 1890.1,494.1 1890.6,497.1 1891.0,500.0 1891.5,503.0 1891.9,506.0 1892.4,508.9 1892.8,511.9 1893.4,514.8 1894.0,517.8 1894.7,520.7 1895.5,523.5 1896.3,526.4 1897.2,529.3 1898.1,532.1 1899.0,535.0 1900.0,537.8 1901.0,540.7 1902.0,543.5 1903.1,546.3 1904.2,549.0 1905.4,551.8 1906.6,554.6 1907.9,557.3 1909.1,560.0 1910.5,562.7 1912.0,565.3 1913.6,567.8 1915.3,570.2 1917.2,572.5 1919.2,574.7 1921.2,576.9 1923.4,579.0 1925.6,580.9 1928.0,582.8 1930.4,584.6 1932.8,586.3 1935.2,588.1 1937.5,590.0 1939.8,592.0 1941.9,594.1 1944.0,596.2 1945.9,598.5 1947.6,600.9 1949.3,603.4 1950.8,606.0 1952.2,608.6 1953.6,611.2 1954.9,614.0 1956.1,616.7 1957.4,619.5 1958.6,622.3 1959.9,625.1 1961.2,627.9 1962.7,630.6 1964.3,633.3 1966.0,635.9 1967.8,638.3 1969.8,640.2 1971.8,641.6 1973.7,642.1 1975.6,641.7 1977.4,640.4 1979.1,638.4 1980.6,636.0 1981.9,633.3 1983.2,630.4 1984.2,627.5 1985.2,624.5 1986.2,621.5 1987.1,618.6 1988.0,615.7 1988.9,612.8 1989.8,609.9 1990.7,607.0 1991.5,604.2 1992.4,601.3 1993.3,598.5 1994.2,595.6 1995.1,592.7 1995.9,589.9 1996.8,587.0 1997.7,584.2 1998.6,581.3 1999.4,578.4 2000.3,575.5 2001.1,572.7 2001.8,569.8 2002.6,566.9 2003.3,564.0 2004.1,561.0 2004.8,558.1 2005.5,555.2 2006.1,552.3 2006.8,549.4 2007.4,546.4 2008.1,543.5 2008.7,540.6 2009.3,537.6 2010.0,534.7 2010.7,531.8 2011.4,528.9 2012.1,526.0 2012.9,523.1 2013.7,520.2 2014.6,517.3 2015.5,514.5 2016.4,511.6 2017.3,508.8 2018.3,505.9 2019.3,503.1 2020.3,500.3 2021.4,497.5 2022.6,494.8 2023.9,492.1 2025.2,489.4 2026.5,486.7 2027.8,484.0 2029.2,481.3 2030.5,478.6 2031.9,476.0 2033.2,473.3 2034.4,470.5 2035.7,467.8 2036.9,465.1 2038.0,462.3 2039.2,459.5 2040.3,456.8 2041.4,454.0 2042.5,451.2 2043.6,448.4 2044.6,445.6 2045.5,442.7 2046.4,439.9 2047.3,437.0 2048.1,434.1 2048.9,431.2 2049.7,428.3 2050.4,425.4 2051.2,422.5 2051.9,419.6 2052.5,416.7 2053.1,413.7 2053.7,410.8 2054.3,407.9 2054.9,404.9 2055.5,402.0 2056.1,399.1 2056.8,396.1 2057.4,393.2 2058.1,390.3 2058.9,387.4 2059.6,384.5 2060.4,381.6 2061.2,378.7 2062.0,375.8 2062.8,372.9 2063.6,370.0 2064.4,367.1 2065.3,364.3 2066.1,361.4 2067.0,358.5 2067.9,355.7 2068.8,352.8 2069.7,350.0 2070.6,347.1 2071.6,344.3 2072.6,341.5 2073.8,338.7 2074.9,335.9 2076.1,333.2 2077.4,330.5 2078.7,327.8 2080.0,325.1 2081.3,322.4 2082.7,319.7 2084.1,317.1 2085.6,314.5 2087.2,311.9 2088.8,309.4 2090.4,306.9 2092.1,304.4 2093.9,302.0 2095.8,299.7 2097.8,297.4 2099.8,295.3 2102.0,293.2 2104.2,291.1 2106.5,289.2 2108.8,287.4 2111.3,285.7 2113.9,284.1 2116.5,282.7 2119.1,281.4 2121.9,280.2 2124.7,279.3 2127.6,278.4 2130.5,277.6 2133.4,276.9 2136.3,276.3 2139.3,275.7 2142.2,275.2 2145.2,274.8 2148.2,274.5 2151.2,274.3 2154.1,274.1 2157.1,274.0 2160.1,274.0 2163.1,274.1 2166.1,274.2 2169.1,274.3 2172.1,274.5 2175.1,274.7 2178.1,275.0 2181.1,275.3 2184.0,275.7 2187.0,276.1 2190.0,276.5 2192.9,277.1 2195.9,277.6 2198.8,278.2 2201.7,278.8 2204.7,279.4 2207.6,280.1 2210.5,280.8 2213.4,281.5 2216.3,282.2 2219.2,283.0 2222.2,283.7 2225.1,284.4 2228.0,285.2 2230.9,285.9 2233.8,286.6 2236.7,287.3 2239.6,288.1 2242.5,288.8 2245.4,289.5 2248.3,290.3 2251.2,291.0 2254.1,291.7 2257.0,292.4 2260.0,293.2 2262.9,293.9 2265.8,294.6 2268.7,295.3 2271.6,296.1 2274.5,296.8 2277.4,297.5 2280.3,298.3 2283.2,299.0 2286.1,299.8 2289.0,300.5 2291.9,301.2 2294.8,301.9 2297.8,302.6 2300.7,303.2 2303.6,303.8 2306.6,304.4 2309.5,305.0 2312.4,305.6 2315.4,306.2 2318.3,306.8 2321.3,307.4 2324.2,307.9 2327.2,308.5 2330.1,309.0 2333.1,309.6 2336.0,310.1 2339.0,310.5 2341.9,311.0 2344.9,311.4 2347.9,311.9 2350.8,312.3 2353.8,312.8 2356.8,313.2 2359.7,313.6 2362.7,314.1 2365.7,314.5 2368.6,314.9 2371.6,315.3 2374.6,315.7 2377.5,316.0 2380.5,316.4 2383.5,316.7" stroke="#000000"/>
<path d="M1342.7,864.4L1345.7,864.4 1348.7,864.4 1351.7,864.4 1354.7,864.4 1357.7,864.4 1360.7,864.4 1363.7,864.4 1366.7,864.4 1369.7,864.3 1372.7,864.3 1375.7,864.3 1378.7,864.3 1381.7,864.3 1384.7,864.3 1387.7,864.3 1390.7,864.3 1393.7,864.3 1396.7,864.3 1399.7,864.3 1402.7,864.3 1405.7,864.3 1408.7,864.3 1411.7,864.3 1414.7,864.3 1417.7,864.3 1420.7,864.3 1423.7,864.3 1426.7,864.3 1429.7,864.2 1432.7,864.2 1435.7,864.2 1438.7,864.2 1441.7,864.1 1444.7,864.0 1447.7,863.9 1450.7,863.8 1453.7,863.7 1456.7,863.5 1459.7,863.2 1462.7,862.8 1465.7,862.4 1468.6,861.8 1471.5,861.1 1474.4,860.1 1477.0,858.9 1479.5,857.5 1481.7,855.7 1483.7,853.6 1485.4,851.2 1486.9,848.7 1488.4,846.0 1489.7,843.3 1491.1,840.6 1492.4,837.9 1493.7,835.2 1495.0,832.4 1496.4,829.8 1497.9,827.2 1499.5,824.6 1501.2,822.2 1503.0,819.8 1504.8,817.5 1506.9,815.3 1509.0,813.2 1511.2,811.2 1513.6,809.3 1516.0,807.5 1518.4,805.8 1520.9,804.1 1523.4,802.4 1525.9,800.7 1528.3,798.9 1530.6,797.1 1532.8,795.1 1535.0,793.0 1536.9,790.8 1538.8,788.4 1540.5,786.0 1542.2,783.5 1543.7,780.9 1545.2,778.3 1546.6,775.7 1547.9,773.0 1549.2,770.2 1550.4,767.5 1551.6,764.8 1552.7,762.0 1553.9,759.2 1554.9,756.4 1556.0,753.6 1557.0,750.8 1557.9,747.9 1558.8,745.1 1559.7,742.2 1560.6,739.3 1561.4,736.4 1562.3,733.6 1563.1,730.7 1564.0,727.8 1564.8,724.9 1565.7,722.1 1566.6,719.2 1567.5,716.3 1568.3,713.5 1569.2,710.6 1570.1,707.7 1571.0,704.9 1571.8,702.0 1572.6,699.1 1573.3,696.2 1574.0,693.3 1574.7,690.4 1575.4,687.4 1576.1,684.5 1576.8,681.6 1577.5,678.7 1578.2,675.8 1578.8,672.8 1579.5,669.9 1580.2,667.0 1580.8,664.1 1581.4,661.1 1582.0,658.2 1582.6,655.2 1583.2,652.3 1583.8,649.4 1584.3,646.4 1584.9,643.5 1585.5,640.5 1586.1,637.6 1586.6,634.7 1587.2,631.7 1587.7,628.8 1588.2,625.8 1588.7,622.8 1589.2,619.9 1589.7,616.9 1590.2,614.0 1590.7,611.0 1591.2,608.1 1591.7,605.1 1592.2,602.1 1592.7,599.2 1593.2,596.2 1593.7,593.3 1594.1,590.3 1594.6,587.3 1595.1,584.4 1595.6,581.4 1596.1,578.5 1596.6,575.5 1597.1,572.6 1597.6,569.6 1598.1,566.6 1598.6,563.7 1599.1,560.7 1599.6,557.8 1600.2,554.8 1600.7,551.9 1601.3,548.9 1601.9,546.0 1602.4,543.0 1603.0,540.1 1603.6,537.2 1604.2,534.2 1604.8,531.3 1605.4,528.4 1606.1,525.4 1606.8,522.5 1607.4,519.6 1608.1,516.7 1608.8,513.7 1609.5,510.8 1610.1,507.9 1610.8,505.0 1611.5,502.1 1612.2,499.1 1612.8,496.2 1613.5,493.3 1614.2,490.4 1614.9,487.5 1615.7,484.6 1616.4,481.6 1617.1,478.7 1617.8,475.8 1618.5,472.9 1619.3,470.0 1620.0,467.1 1620.7,464.2 1621.4,461.3 1622.2,458.4 1622.9,455.5 1623.7,452.6 1624.6,449.7 1625.5,446.8 1626.4,444.0 1627.3,441.1 1628.2,438.3 1629.2,435.4 1630.2,432.6 1631.1,429.8 1632.2,427.0 1633.3,424.2 1634.6,421.5 1635.9,418.8 1637.3,416.1 1638.7,413.4 1640.2,410.8 1641.7,408.1 1643.3,405.6 1645.1,403.1 1647.1,400.9 1649.2,398.8 1651.6,397.1 1654.1,395.7 1656.8,394.7 1659.5,394.2 1662.2,394.2 1665.0,394.9 1667.6,395.9 1670.1,397.4 1672.3,399.2 1674.3,401.4 1676.2,403.7 1677.9,406.2 1679.6,408.8 1681.2,411.4 1682.8,414.0 1684.4,416.6 1686.0,419.1 1687.6,421.7 1689.3,424.2 1690.9,426.7 1692.6,429.2 1694.3,431.7 1696.0,434.1 1697.8,436.5 1699.6,438.9 1701.5,441.2 1703.4,443.6 1705.2,445.9 1707.0,448.3 1708.8,450.7 1710.4,453.2 1712.0,455.8 1713.4,458.4 1714.8,461.0 1716.1,463.7 1717.4,466.4 1718.8,469.1 1720.1,471.8 1721.5,474.5 1722.8,477.3 1724.3,480.0 1725.7,482.8 1727.3,485.5 1728.9,488.1 1730.7,490.5 1732.6,492.7 1734.6,494.5 1736.7,495.8 1738.9,496.3 1741.2,496.0 1743.5,494.8 1745.8,493.2 1748.1,491.2 1750.4,489.2 1752.8,487.3 1755.1,485.9 1757.4,485.0 1759.6,485.0 1761.8,485.9 1763.9,487.4 1765.8,489.4 1767.6,491.8 1769.2,494.4 1770.7,497.1 1772.1,500.0 1773.5,502.9 1774.8,505.9 1776.2,508.7 1777.7,511.5 1779.3,514.1 1781.1,516.4 1782.9,518.2 1784.8,519.4 1786.8,519.7 1788.8,519.0 1790.7,517.6 1792.4,515.6 1793.9,513.1 1795.1,510.3 1796.1,507.4 1797.0,504.3 1797.8,501.2 1798.5,498.2 1799.3,495.2 1800.0,492.2 1800.7,489.3 1801.5,486.3 1802.3,483.4 1803.0,480.5 1803.8,477.7 1804.7,474.8 1805.5,471.9 1806.3,469.0 1807.0,466.1 1807.7,463.2 1808.4,460.3 1809.0,457.4 1809.6,454.4 1810.1,451.5 1810.6,448.5 1811.2,445.6 1811.7,442.6 1812.3,439.7 1812.9,436.7 1813.6,433.8 1814.3,430.9 1815.0,428.0 1815.8,425.1 1816.5,422.2 1817.3,419.3 1818.1,416.4 1818.8,413.5 1819.6,410.6 1820.3,407.7 1821.2,404.8 1822.1,402.0 1823.1,399.2 1824.2,396.4 1825.4,393.6 1826.7,390.9 1828.0,388.1 1829.3,385.3 1830.6,382.5 1832.0,379.8 1833.5,377.1 1835.2,374.6 1837.1,372.6 1839.3,371.0 1841.6,370.2 1843.9,370.1 1846.3,370.9 1848.5,372.3 1850.5,374.2 1852.3,376.6 1853.9,379.3 1855.3,382.1 1856.5,385.0 1857.6,387.9 1858.6,390.8 1859.5,393.8 1860.4,396.7 1861.3,399.6 1862.1,402.5 1862.9,405.4 1863.7,408.3 1864.6,411.2 1865.4,414.0 1866.2,416.9 1867.0,419.8 1867.8,422.7 1868.5,425.6 1869.3,428.5 1870.1,431.4 1870.8,434.3 1871.5,437.2 1872.2,440.1 1872.9,443.1 1873.6,446.0 1874.2,448.9 1874.9,451.8 1875.6,454.7 1876.2,457.7 1876.9,460.6 1877.5,463.5 1878.1,466.5 1878.6,469.4 1879.2,472.4 1879.8,475.3 1880.3,478.3 1880.9,481.2 1881.5,484.1 1882.0,487.1 1882.6,490.0 1883.2,493.0 1883.9,495.9 1884.5,498.8 1885.2,501.7 1885.9,504.7 1886.7,507.6 1887.4,510.5 1888.2,513.4 1889.0,516.2 1889.9,519.1 1890.8,522.0 1891.8,524.8 1892.8,527.6 1893.9,530.4 1895.1,533.2 1896.2,535.9 1897.5,538.6 1898.9,541.3 1900.3,543.9 1901.8,546.5 1903.4,549.0 1905.1,551.5 1906.8,554.0 1908.6,556.4 1910.4,558.8 1912.3,561.1 1914.3,563.4 1916.2,565.7 1918.1,568.0 1919.9,570.4 1921.6,572.9 1923.2,575.4 1924.7,578.0 1926.1,580.6 1927.4,583.3 1928.7,586.0 1929.8,588.7 1930.9,591.5 1932.0,594.3 1933.0,597.2 1934.1,600.0 1935.1,602.8 1936.1,605.6 1937.0,608.5 1938.0,611.3 1939.0,614.2 1939.9,617.0 1940.7,619.9 1941.5,622.8 1942.3,625.7 1943.0,628.6 1943.8,631.5 1944.5,634.4 1945.3,637.3 1946.0,640.2 1946.7,643.1 1947.5,646.0 1948.2,648.9 1948.8,651.9 1949.5,654.8 1950.2,657.7 1950.8,660.6 1951.4,663.6 1952.1,666.5 1952.7,669.4 1953.4,672.3 1954.0,675.3 1954.6,678.2 1955.3,681.1 1955.9,684.1 1956.5,687.0 1957.1,690.0 1957.6,692.9 1958.2,695.8 1958.8,698.8 1959.3,701.7 1959.9,704.7 1960.5,707.6 1961.0,710.6 1961.6,713.5 1962.1,716.4 1962.7,719.4 1963.3,722.3 1963.9,725.2 1964.6,728.2 1965.2,731.1 1965.9,734.1 1966.6,737.0 1967.3,740.1 1968.0,743.1 1968.8,746.3 1969.5,749.4 1970.3,752.5 1971.2,755.4 1972.3,758.1 1973.4,760.3 1974.8,761.9 1976.1,762.5 1977.5,762.1 1978.9,760.7 1980.2,758.6 1981.4,756.0 1982.5,753.2 1983.4,750.2 1984.2,747.1 1984.8,744.0 1985.4,740.9 1986.0,737.9 1986.6,734.9 1987.1,731.9 1987.6,728.9 1988.2,726.0 1988.7,723.0 1989.3,720.1 1989.8,717.1 1990.4,714.2 1990.9,711.2 1991.4,708.3 1991.9,705.3 1992.3,702.4 1992.7,699.4 1993.2,696.4 1993.6,693.5 1994.0,690.5 1994.4,687.5 1994.8,684.6 1995.3,681.6 1995.7,678.6 1996.1,675.6 1996.5,672.7 1997.0,669.7 1997.4,666.7 1997.9,663.8 1998.3,660.8 1998.8,657.9 1999.3,654.9 1999.8,651.9 2000.2,649.0 2000.7,646.0 2001.2,643.1 2001.6,640.1 2002.0,637.1 2002.5,634.2 2002.9,631.2 2003.3,628.2 2003.7,625.2 2004.1,622.3 2004.5,619.3 2004.9,616.3 2005.3,613.4 2005.8,610.4 2006.2,607.4 2006.6,604.5 2007.1,601.5 2007.5,598.5 2008.0,595.6 2008.4,592.6 2008.9,589.6 2009.4,586.7 2009.8,583.7 2010.3,580.7 2010.7,577.8 2011.2,574.8 2011.7,571.9 2012.1,568.9 2012.6,565.9 2013.1,563.0 2013.5,560.0 2014.0,557.0 2014.5,554.1 2014.9,551.1 2015.4,548.2 2015.9,545.2 2016.3,542.2 2016.8,539.3 2017.3,536.3 2017.7,533.3 2018.2,530.4 2018.6,527.4 2019.1,524.4 2019.5,521.5 2020.0,518.5 2020.5,515.6 2021.1,512.6 2021.7,509.7 2022.3,506.8 2023.0,503.9 2023.8,501.0 2024.6,498.1 2025.4,495.2 2026.2,492.3 2027.1,489.4 2027.9,486.5 2028.9,483.7 2029.9,480.9 2030.9,478.0 2031.9,475.2 2032.9,472.4 2034.0,469.6 2034.9,466.8 2035.9,463.9 2036.7,461.0 2037.5,458.2 2038.1,455.2 2038.8,452.3 2039.3,449.4 2039.9,446.4 2040.5,443.5 2041.1,440.5 2041.6,437.6 2042.2,434.6 2042.8,431.7 2043.4,428.8 2043.9,425.8 2044.5,422.9 2045.1,419.9 2045.7,417.0 2046.3,414.1 2046.9,411.1 2047.5,408.2 2048.0,405.2 2048.6,402.3 2049.2,399.3 2049.8,396.4 2050.4,393.5 2051.0,390.5 2051.6,387.6 2052.3,384.7 2053.0,381.8 2053.7,378.8 2054.4,375.9 2055.1,373.0 2055.9,370.1 2056.6,367.2 2057.3,364.3 2058.1,361.4 2058.8,358.5 2059.5,355.6 2060.2,352.7 2061.0,349.7 2061.7,346.8 2062.4,343.9 2063.1,341.0 2063.9,338.1 2064.6,335.2 2065.3,332.3 2066.0,329.4 2066.8,326.5 2067.5,323.6 2068.3,320.7 2069.0,317.8 2069.9,314.9 2070.7,312.0 2071.5,309.1 2072.4,306.2 2073.2,303.4 2074.1,300.5 2075.0,297.6 2075.8,294.8 2076.7,291.9 2077.6,289.0 2078.5,286.2 2079.4,283.3 2080.4,280.5 2081.4,277.7 2082.4,274.8 2083.4,272.0 2084.5,269.2 2085.5,266.4 2086.5,263.6 2087.6,260.8 2088.7,258.0 2089.8,255.2 2090.9,252.4 2092.1,249.7 2093.4,247.0 2094.8,244.3 2096.1,241.6 2097.5,238.9 2098.8,236.2 2100.2,233.6 2101.6,230.9 2103.1,228.3 2104.6,225.7 2106.2,223.3 2108.0,220.9 2109.9,218.6 2111.9,216.4 2114.0,214.3 2116.1,212.1 2118.3,210.0 2120.5,208.0 2122.7,206.0 2125.0,204.1 2127.4,202.3 2129.9,200.6 2132.4,199.0 2134.9,197.4 2137.5,195.9 2140.2,194.5 2142.9,193.2 2145.6,192.0 2148.4,190.9 2151.2,189.9 2154.1,189.0 2156.9,188.2 2159.8,187.4 2162.7,186.6 2165.6,185.9 2168.6,185.2 2171.5,184.6 2174.4,184.0 2177.4,183.4 2180.3,182.9 2183.3,182.3 2186.2,181.8 2189.2,181.3 2192.2,180.8 2195.1,180.4 2198.1,179.9 2201.1,179.5 2204.0,179.1 2207.0,178.8 2210.0,178.5 2213.0,178.2 2216.0,178.0 2219.0,177.7 2222.0,177.6 2224.9,177.4 2227.9,177.4 2230.9,177.3 2233.9,177.3 2236.9,177.3 2239.9,177.4 2242.9,177.5 2245.9,177.6 2248.9,177.8 2251.9,178.1 2254.9,178.3 2257.9,178.7 2260.8,179.1 2263.8,179.5 2266.8,180.1 2269.7,180.6 2272.6,181.2 2275.6,181.9 2278.5,182.5 2281.4,183.2 2284.3,183.9 2287.2,184.6 2290.1,185.4 2293.0,186.1 2296.0,186.9 2298.9,187.6 2301.7,188.4 2304.6,189.2 2307.5,190.0 2310.4,190.8 2313.3,191.6 2316.2,192.4 2319.1,193.3 2322.0,194.1 2324.8,195.0 2327.7,195.8 2330.6,196.7 2333.4,197.6 2336.3,198.5 2339.1,199.5 2342.0,200.4 2344.8,201.4 2347.6,202.4 2350.5,203.4 2353.3,204.4 2356.1,205.5 2358.9,206.6 2361.6,207.7 2364.4,208.9 2367.2,210.0 2369.9,211.3 2372.6,212.5 2375.4,213.7 2378.1,215.0 2380.8,216.3 2383.5,217.6" stroke="#fa0000"/>
<path d="M1342.7,864.4L1345.7,864.4 1348.7,864.4 1351.7,864.4 1354.7,864.4 1357.7,864.4 1360.7,864.4 1363.7,864.4 1366.7,864.4 1369.7,864.3 1372.7,864.3 1375.7,864.3 1378.7,864.3 1381.7,864.3 1384.7,864.3 1387.7,864.3 1390.7,864.3 1393.7,864.3 1396.7,864.3 1399.7,864.3 1402.7,864.3 1405.7,864.3 1408.7,864.3 1411.7,864.3 1414.7,864.3 1417.7,864.3 1420.7,864.2 1423.7,864.2 1426.7,864.2 1429.7,864.2 1432.7,864.2 1435.7,864.2 1438.7,864.2 1441.7,864.2 1444.7,864.1 1447.7,864.0 1450.7,863.9 1453.7,863.8 1456.8,863.6 1459.8,863.3 1462.7,862.8 1465.6,862.1 1468.5,861.2 1471.1,860.0 1473.7,858.5 1476.0,856.8 1478.1,854.8 1480.0,852.6 1481.6,850.1 1483.0,847.5 1484.2,844.7 1485.3,841.9 1486.3,839.1 1487.2,836.2 1488.0,833.3 1488.8,830.4 1489.6,827.5 1490.4,824.6 1491.1,821.7 1491.9,818.8 1492.6,815.9 1493.4,813.0 1494.1,810.0 1494.8,807.1 1495.5,804.2 1496.2,801.3 1496.9,798.4 1497.6,795.5 1498.3,792.6 1499.0,789.6 1499.7,786.7 1500.4,783.8 1501.1,780.9 1501.8,778.0 1502.6,775.1 1503.4,772.2 1504.2,769.3 1505.1,766.4 1506.1,763.6 1507.2,760.9 1508.4,758.1 1509.7,755.4 1511.0,752.7 1512.4,750.1 1513.9,747.4 1515.3,744.8 1516.8,742.2 1518.3,739.6 1519.9,737.1 1521.4,734.5 1523.0,731.9 1524.6,729.4 1526.2,726.9 1527.8,724.3 1529.4,721.8 1531.0,719.3 1532.6,716.7 1534.2,714.2 1535.7,711.6 1537.2,709.0 1538.6,706.3 1539.9,703.6 1541.1,700.9 1542.2,698.1 1543.3,695.3 1544.3,692.5 1545.2,689.7 1546.2,686.8 1547.1,684.0 1548.0,681.1 1549.0,678.3 1550.0,675.5 1551.0,672.6 1552.1,669.8 1553.1,667.0 1554.2,664.2 1555.3,661.4 1556.4,658.6 1557.5,655.8 1558.6,653.0 1559.6,650.2 1560.6,647.4 1561.6,644.6 1562.5,641.7 1563.4,638.9 1564.2,636.0 1565.0,633.1 1565.8,630.2 1566.5,627.3 1567.3,624.4 1568.1,621.5 1568.8,618.6 1569.6,615.7 1570.3,612.8 1571.0,609.9 1571.6,606.9 1572.2,604.0 1572.7,601.0 1573.2,598.1 1573.6,595.1 1574.1,592.2 1574.5,589.2 1575.0,586.2 1575.4,583.3 1575.8,580.3 1576.3,577.3 1576.7,574.4 1577.2,571.4 1577.6,568.4 1578.1,565.5 1578.5,562.5 1579.0,559.5 1579.5,556.6 1579.9,553.6 1580.4,550.7 1580.9,547.7 1581.5,544.7 1582.0,541.8 1582.5,538.8 1583.0,535.9 1583.6,532.9 1584.1,530.0 1584.6,527.0 1585.2,524.1 1585.7,521.1 1586.2,518.2 1586.8,515.2 1587.3,512.3 1587.8,509.3 1588.3,506.4 1588.8,503.4 1589.4,500.5 1589.9,497.5 1590.4,494.6 1591.0,491.6 1591.6,488.7 1592.2,485.7 1592.8,482.8 1593.5,479.9 1594.1,477.0 1594.8,474.0 1595.5,471.1 1596.1,468.2 1596.8,465.3 1597.5,462.3 1598.1,459.4 1598.8,456.5 1599.5,453.6 1600.2,450.7 1600.9,447.8 1601.7,444.9 1602.6,442.0 1603.4,439.1 1604.3,436.3 1605.2,433.4 1606.1,430.5 1607.0,427.7 1608.0,424.8 1608.9,422.0 1609.8,419.1 1610.7,416.3 1611.6,413.4 1612.6,410.6 1613.5,407.7 1614.5,404.9 1615.5,402.0 1616.4,399.2 1617.4,396.4 1618.4,393.5 1619.4,390.7 1620.4,387.9 1621.4,385.1 1622.5,382.3 1623.6,379.5 1624.7,376.7 1626.0,374.0 1627.2,371.3 1628.5,368.6 1629.8,365.9 1631.2,363.2 1632.5,360.5 1633.9,357.8 1635.4,355.2 1637.0,352.6 1638.7,350.2 1640.6,347.8 1642.5,345.4 1644.6,343.2 1646.8,341.2 1649.1,339.4 1651.7,338.0 1654.4,337.0 1657.2,336.3 1660.0,336.1 1662.9,336.3 1665.6,336.9 1668.4,338.0 1671.0,339.4 1673.5,341.0 1675.8,342.9 1678.0,344.9 1680.1,347.1 1682.1,349.4 1684.1,351.7 1686.1,354.0 1688.0,356.3 1689.9,358.6 1691.8,360.9 1693.8,363.2 1695.7,365.5 1697.6,367.8 1699.5,370.2 1701.3,372.5 1703.1,374.9 1704.9,377.3 1706.5,379.8 1708.1,382.3 1709.7,384.9 1711.2,387.5 1712.7,390.1 1714.1,392.7 1715.5,395.4 1716.9,398.1 1718.2,400.8 1719.5,403.5 1720.8,406.2 1722.1,409.0 1723.5,411.8 1724.9,414.5 1726.3,417.3 1727.9,420.0 1729.5,422.5 1731.4,424.6 1733.5,426.4 1735.7,427.5 1738.1,427.9 1740.5,427.5 1742.9,426.3 1745.3,424.7 1747.6,422.7 1750.0,420.7 1752.4,418.7 1754.7,417.1 1757.0,416.1 1759.4,415.9 1761.6,416.5 1763.8,417.8 1765.9,419.6 1767.8,421.8 1769.5,424.3 1771.1,427.0 1772.6,429.8 1774.1,432.6 1775.6,435.5 1777.2,438.2 1778.9,440.9 1780.7,443.3 1782.6,445.4 1784.6,447.0 1786.7,447.9 1788.7,447.9 1790.8,447.0 1792.6,445.4 1794.3,443.3 1795.8,440.8 1796.9,438.0 1797.9,435.1 1798.7,432.1 1799.4,429.0 1800.2,426.0 1800.9,423.0 1801.6,420.0 1802.3,417.1 1803.1,414.2 1803.9,411.3 1804.6,408.4 1805.4,405.5 1806.1,402.6 1806.7,399.6 1807.4,396.7 1808.0,393.8 1808.6,390.9 1809.3,387.9 1809.9,385.0 1810.5,382.0 1811.1,379.1 1811.7,376.2 1812.4,373.3 1813.1,370.3 1813.8,367.4 1814.5,364.5 1815.3,361.6 1816.2,358.8 1817.0,355.9 1817.9,353.0 1818.7,350.1 1819.6,347.3 1820.5,344.4 1821.5,341.6 1822.5,338.8 1823.6,335.9 1824.7,333.1 1825.9,330.3 1827.2,327.5 1828.5,324.7 1829.9,321.9 1831.5,319.3 1833.2,316.8 1835.2,314.6 1837.4,312.8 1839.9,311.6 1842.5,310.9 1845.1,310.9 1847.8,311.5 1850.3,312.7 1852.7,314.4 1854.9,316.5 1856.8,318.9 1858.5,321.4 1860.1,324.0 1861.6,326.8 1862.9,329.5 1864.1,332.3 1865.2,335.1 1866.2,337.9 1867.2,340.7 1868.2,343.6 1869.1,346.4 1870.0,349.3 1870.9,352.2 1871.7,355.0 1872.6,357.9 1873.5,360.8 1874.3,363.7 1875.2,366.5 1876.0,369.4 1876.9,372.3 1877.7,375.2 1878.6,378.0 1879.4,380.9 1880.2,383.8 1881.1,386.7 1881.9,389.6 1882.7,392.4 1883.5,395.3 1884.3,398.2 1885.2,401.1 1886.0,404.0 1886.9,406.9 1887.8,409.7 1888.8,412.5 1889.9,415.3 1891.1,418.1 1892.4,420.7 1893.8,423.4 1895.4,425.9 1897.0,428.4 1898.8,430.8 1900.7,433.1 1902.7,435.4 1904.7,437.6 1906.8,439.7 1908.9,441.9 1911.0,444.1 1913.0,446.3 1914.9,448.5 1916.8,450.9 1918.6,453.3 1920.3,455.7 1921.9,458.3 1923.4,460.8 1924.9,463.5 1926.3,466.1 1927.7,468.7 1929.1,471.4 1930.4,474.1 1931.8,476.8 1933.0,479.5 1934.3,482.3 1935.4,485.0 1936.6,487.8 1937.6,490.6 1938.7,493.4 1939.6,496.2 1940.5,499.1 1941.3,502.0 1942.0,504.9 1942.7,507.8 1943.4,510.7 1944.0,513.7 1944.6,516.6 1945.2,519.5 1945.8,522.5 1946.4,525.4 1946.9,528.4 1947.5,531.3 1948.1,534.3 1948.6,537.2 1949.2,540.2 1949.7,543.1 1950.2,546.1 1950.7,549.0 1951.2,552.0 1951.7,554.9 1952.2,557.9 1952.7,560.8 1953.2,563.8 1953.6,566.8 1954.1,569.7 1954.5,572.7 1954.9,575.7 1955.3,578.6 1955.8,581.6 1956.2,584.6 1956.6,587.6 1957.0,590.5 1957.4,593.5 1957.8,596.5 1958.3,599.4 1958.8,602.4 1959.3,605.3 1959.9,608.3 1960.4,611.2 1960.9,614.2 1961.4,617.1 1961.9,620.1 1962.4,623.0 1962.8,626.0 1963.2,629.0 1963.5,631.9 1963.9,634.9 1964.2,638.0 1964.6,641.0 1965.1,644.1 1965.6,647.2 1966.3,650.3 1967.2,653.4 1968.2,656.3 1969.4,659.1 1970.7,661.7 1972.1,663.7 1973.5,665.1 1975.0,665.5 1976.4,664.9 1977.8,663.3 1979.1,661.1 1980.3,658.5 1981.4,655.6 1982.4,652.6 1983.3,649.6 1984.0,646.5 1984.7,643.5 1985.4,640.4 1986.0,637.4 1986.6,634.5 1987.2,631.5 1987.7,628.6 1988.3,625.6 1988.9,622.7 1989.4,619.8 1989.9,616.8 1990.4,613.9 1990.8,610.9 1991.3,607.9 1991.7,605.0 1992.1,602.0 1992.5,599.0 1993.0,596.1 1993.4,593.1 1993.8,590.1 1994.2,587.2 1994.7,584.2 1995.1,581.2 1995.5,578.2 1995.9,575.3 1996.3,572.3 1996.7,569.3 1997.1,566.4 1997.5,563.4 1997.9,560.4 1998.2,557.4 1998.6,554.5 1999.0,551.5 1999.4,548.5 1999.7,545.5 2000.1,542.6 2000.5,539.6 2000.8,536.6 2001.2,533.6 2001.6,530.7 2002.0,527.7 2002.3,524.7 2002.7,521.7 2003.1,518.8 2003.4,515.8 2003.8,512.8 2004.2,509.8 2004.6,506.8 2004.9,503.9 2005.3,500.9 2005.7,497.9 2006.0,494.9 2006.4,492.0 2006.8,489.0 2007.1,486.0 2007.5,483.0 2007.9,480.1 2008.3,477.1 2008.8,474.1 2009.2,471.2 2009.7,468.2 2010.2,465.3 2010.7,462.3 2011.2,459.3 2011.6,456.4 2012.1,453.4 2012.6,450.5 2013.1,447.5 2013.7,444.6 2014.2,441.6 2014.8,438.7 2015.4,435.7 2016.0,432.8 2016.7,429.9 2017.4,427.0 2018.1,424.0 2018.7,421.1 2019.4,418.2 2020.1,415.3 2020.9,412.4 2021.7,409.5 2022.5,406.6 2023.4,403.7 2024.3,400.9 2025.2,398.0 2026.2,395.2 2027.1,392.4 2028.1,389.5 2029.1,386.7 2030.0,383.8 2031.0,381.0 2032.0,378.2 2033.0,375.3 2034.0,372.5 2035.0,369.7 2036.0,366.9 2037.0,364.0 2038.0,361.2 2038.9,358.4 2039.9,355.5 2040.8,352.7 2041.7,349.8 2042.5,346.9 2043.4,344.0 2044.2,341.2 2045.1,338.3 2045.9,335.4 2046.7,332.5 2047.6,329.6 2048.4,326.8 2049.1,323.9 2049.9,321.0 2050.6,318.1 2051.3,315.1 2052.1,312.2 2052.8,309.3 2053.5,306.4 2054.2,303.5 2054.9,300.6 2055.7,297.7 2056.5,294.8 2057.3,291.9 2058.2,289.0 2059.1,286.2 2060.0,283.3 2061.0,280.5 2061.9,277.6 2062.9,274.8 2063.8,272.0 2064.8,269.1 2065.8,266.3 2066.7,263.4 2067.7,260.6 2068.6,257.7 2069.6,254.9 2070.5,252.0 2071.4,249.2 2072.4,246.3 2073.4,243.5 2074.5,240.7 2075.6,238.0 2076.9,235.3 2078.4,232.7 2080.0,230.2 2081.7,227.7 2083.5,225.3 2085.3,222.9 2087.2,220.6 2089.1,218.3 2091.2,216.2 2093.4,214.2 2095.7,212.4 2098.2,210.8 2100.8,209.3 2103.4,207.9 2106.1,206.6 2108.9,205.4 2111.6,204.3 2114.5,203.3 2117.4,202.5 2120.3,201.7 2123.2,200.9 2126.1,200.2 2129.0,199.6 2132.0,199.1 2134.9,198.7 2137.9,198.3 2140.9,198.1 2143.9,198.0 2146.9,197.9 2149.9,197.8 2152.9,197.9 2155.9,198.0 2158.8,198.3 2161.8,198.6 2164.8,199.0 2167.7,199.5 2170.7,200.0 2173.6,200.6 2176.6,201.1 2179.5,201.6 2182.5,202.2 2185.4,202.7 2188.4,203.3 2191.3,203.9 2194.3,204.4 2197.2,205.0 2200.2,205.6 2203.1,206.2 2206.0,206.9 2208.9,207.5 2211.9,208.2 2214.8,208.9 2217.7,209.7 2220.6,210.4 2223.5,211.2 2226.4,212.0 2229.3,212.8 2232.1,213.7 2235.0,214.5 2237.9,215.4 2240.7,216.3 2243.6,217.3 2246.4,218.2 2249.3,219.2 2252.1,220.2 2254.9,221.2 2257.7,222.2 2260.6,223.2 2263.4,224.1 2266.2,225.1 2269.1,226.1 2271.9,227.1 2274.7,228.1 2277.6,229.1 2280.4,230.1 2283.2,231.1 2286.0,232.1 2288.9,233.1 2291.7,234.1 2294.5,235.1 2297.4,236.0 2300.2,237.0 2303.0,238.0 2305.9,239.0 2308.7,240.0 2311.5,241.0 2314.3,242.0 2317.2,243.0 2320.0,244.0 2322.8,245.0 2325.7,245.9 2328.5,246.9 2331.4,247.9 2334.2,248.8 2337.1,249.7 2339.9,250.6 2342.8,251.4 2345.7,252.3 2348.6,253.1 2351.5,253.9 2354.4,254.6 2357.3,255.4 2360.2,256.1 2363.1,256.8 2366.0,257.6 2368.9,258.3 2371.8,259.0 2374.7,259.6 2377.7,260.3 2380.6,261.0 2383.5,261.7" stroke="#00f200"/>
<path d="M1342.7,864.4L1345.7,864.4 1348.7,864.4 1351.7,864.4 1354.7,864.4 1357.7,864.4 1360.7,864.4 1363.7,864.4 1366.7,864.4 1369.7,864.3 1372.7,864.3 1375.7,864.3 1378.7,864.3 1381.7,864.3 1384.7,864.3 1387.7,864.3 1390.7,864.3 1393.7,864.3 1396.7,864.3 1399.7,864.3 1402.6,864.3 1405.6,864.3 1408.6,864.3 1411.6,864.3 1414.6,864.3 1417.6,864.3 1420.6,864.3 1423.6,864.3 1426.6,864.3 1429.6,864.3 1432.6,864.2 1435.6,864.2 1438.6,864.1 1441.6,864.0 1444.6,863.9 1447.7,863.7 1450.7,863.5 1453.7,863.3 1456.7,863.0 1459.7,862.6 1462.5,862.1 1465.3,861.2 1467.8,860.0 1470.2,858.4 1472.4,856.5 1474.4,854.3 1476.2,852.0 1477.8,849.5 1479.2,846.8 1480.5,844.1 1481.6,841.3 1482.5,838.4 1483.4,835.5 1484.2,832.6 1485.0,829.7 1485.7,826.8 1486.4,823.9 1487.1,820.9 1487.8,818.0 1488.4,815.1 1489.1,812.2 1489.8,809.2 1490.4,806.3 1491.0,803.4 1491.7,800.5 1492.3,797.5 1492.9,794.6 1493.6,791.7 1494.2,788.7 1494.8,785.8 1495.5,782.9 1496.2,780.0 1496.9,777.1 1497.6,774.1 1498.3,771.2 1499.1,768.3 1499.8,765.4 1500.6,762.5 1501.4,759.6 1502.1,756.7 1502.9,753.8 1503.7,751.0 1504.5,748.1 1505.3,745.2 1506.1,742.3 1506.9,739.4 1507.8,736.5 1508.6,733.7 1509.5,730.8 1510.4,727.9 1511.3,725.1 1512.3,722.3 1513.3,719.4 1514.4,716.6 1515.5,713.8 1516.6,711.1 1517.7,708.3 1518.9,705.5 1520.1,702.8 1521.3,700.0 1522.5,697.3 1523.8,694.6 1525.0,691.9 1526.3,689.1 1527.6,686.4 1528.8,683.7 1530.0,681.0 1531.3,678.2 1532.5,675.5 1533.7,672.7 1534.9,670.0 1536.1,667.2 1537.2,664.5 1538.4,661.7 1539.5,658.9 1540.6,656.2 1541.7,653.4 1542.8,650.6 1543.8,647.8 1544.9,644.9 1545.9,642.1 1546.9,639.3 1547.9,636.5 1548.9,633.6 1549.8,630.8 1550.6,627.9 1551.5,625.0 1552.3,622.1 1553.1,619.3 1553.9,616.4 1554.7,613.5 1555.4,610.6 1556.2,607.7 1557.0,604.8 1557.7,601.9 1558.5,599.0 1559.2,596.1 1559.9,593.2 1560.7,590.3 1561.4,587.4 1562.1,584.4 1562.8,581.5 1563.5,578.6 1564.2,575.7 1565.0,572.8 1565.7,569.9 1566.4,567.0 1567.1,564.1 1567.8,561.1 1568.5,558.2 1569.2,555.3 1569.9,552.4 1570.6,549.5 1571.3,546.6 1572.0,543.7 1572.7,540.7 1573.3,537.8 1574.0,534.9 1574.6,532.0 1575.2,529.0 1575.9,526.1 1576.5,523.2 1577.1,520.2 1577.8,517.3 1578.4,514.4 1579.0,511.4 1579.6,508.5 1580.3,505.6 1580.9,502.7 1581.6,499.7 1582.2,496.8 1582.9,493.9 1583.5,491.0 1584.2,488.0 1584.9,485.1 1585.5,482.2 1586.2,479.3 1586.9,476.3 1587.5,473.4 1588.2,470.5 1588.9,467.6 1589.5,464.7 1590.2,461.7 1591.0,458.8 1591.7,455.9 1592.6,453.1 1593.4,450.2 1594.4,447.3 1595.3,444.5 1596.2,441.6 1597.2,438.8 1598.1,436.0 1599.1,433.1 1600.1,430.3 1601.1,427.5 1602.2,424.7 1603.3,421.9 1604.4,419.1 1605.6,416.4 1606.8,413.6 1607.9,410.9 1609.2,408.1 1610.4,405.3 1611.7,402.6 1613.1,399.9 1614.6,397.2 1616.2,394.6 1617.9,392.1 1619.7,389.8 1621.8,387.6 1624.1,385.8 1626.6,384.4 1629.2,383.4 1631.9,383.0 1634.6,383.2 1637.3,383.9 1639.9,385.1 1642.4,386.7 1644.8,388.5 1646.9,390.7 1648.9,393.0 1650.7,395.4 1652.4,397.9 1654.0,400.5 1655.5,403.1 1656.8,405.8 1658.1,408.5 1659.4,411.2 1660.7,413.9 1662.0,416.7 1663.2,419.4 1664.4,422.1 1665.6,424.9 1666.8,427.6 1667.9,430.4 1669.1,433.2 1670.3,435.9 1671.4,438.7 1672.5,441.5 1673.6,444.3 1674.7,447.1 1675.8,449.9 1676.8,452.7 1677.9,455.5 1678.9,458.3 1679.9,461.1 1680.9,464.0 1681.8,466.8 1682.7,469.7 1683.6,472.5 1684.4,475.4 1685.2,478.3 1686.0,481.2 1686.9,484.1 1687.7,486.9 1688.6,489.8 1689.5,492.7 1690.4,495.5 1691.5,498.3 1692.6,501.1 1693.8,503.8 1695.0,506.6 1696.3,509.3 1697.5,512.0 1698.9,514.7 1700.2,517.3 1701.6,520.0 1703.1,522.6 1704.6,525.2 1706.1,527.7 1707.7,530.3 1709.2,532.9 1710.8,535.4 1712.3,538.0 1713.8,540.6 1715.2,543.3 1716.6,546.0 1718.0,548.7 1719.5,551.4 1720.9,554.2 1722.4,556.9 1724.0,559.6 1725.7,562.2 1727.5,564.6 1729.4,566.6 1731.4,568.2 1733.4,569.1 1735.5,569.0 1737.5,568.1 1739.4,566.5 1741.1,564.3 1742.7,561.7 1744.0,558.9 1745.2,556.0 1746.3,553.1 1747.4,550.1 1748.4,547.2 1749.4,544.3 1750.5,541.5 1751.6,538.6 1752.7,535.7 1753.9,532.9 1755.2,530.0 1756.5,527.2 1758.0,524.5 1759.6,522.1 1761.4,519.9 1763.5,518.3 1765.8,517.2 1768.3,516.8 1771.0,517.1 1773.6,517.9 1776.3,519.2 1779.0,520.5 1781.5,521.7 1784.0,522.5 1786.4,522.6 1788.5,521.8 1790.5,520.4 1792.2,518.3 1793.6,515.9 1794.8,513.2 1795.8,510.2 1796.6,507.2 1797.4,504.2 1798.1,501.2 1798.9,498.2 1799.6,495.2 1800.3,492.3 1801.0,489.4 1801.7,486.5 1802.4,483.5 1803.1,480.6 1803.8,477.7 1804.4,474.8 1805.0,471.9 1805.7,468.9 1806.3,466.0 1807.0,463.1 1807.6,460.1 1808.2,457.2 1808.9,454.3 1809.5,451.3 1810.0,448.4 1810.6,445.5 1811.1,442.5 1811.6,439.6 1812.1,436.6 1812.6,433.6 1813.1,430.7 1813.5,427.7 1814.0,424.8 1814.5,421.8 1815.0,418.9 1815.6,415.9 1816.1,413.0 1816.7,410.0 1817.3,407.1 1817.9,404.1 1818.5,401.2 1819.1,398.3 1819.7,395.3 1820.3,392.4 1821.0,389.5 1821.6,386.6 1822.3,383.6 1823.0,380.7 1823.8,377.8 1824.5,374.9 1825.3,372.0 1826.1,369.1 1826.9,366.2 1827.7,363.4 1828.5,360.5 1829.3,357.6 1830.1,354.7 1831.0,351.8 1831.8,349.0 1832.7,346.1 1833.5,343.2 1834.4,340.3 1835.2,337.5 1836.1,334.6 1836.9,331.7 1837.8,328.8 1838.6,325.9 1839.5,323.0 1840.5,320.2 1841.5,317.3 1842.7,314.4 1844.0,311.6 1845.4,308.9 1847.0,306.3 1848.9,304.0 1851.1,302.1 1853.4,300.7 1855.9,299.9 1858.4,299.8 1860.9,300.5 1863.4,301.7 1865.7,303.5 1867.8,305.7 1869.7,308.0 1871.4,310.6 1873.1,313.2 1874.6,315.9 1876.1,318.6 1877.5,321.3 1879.0,323.9 1880.6,326.5 1882.3,329.0 1884.1,331.3 1886.1,333.3 1888.4,335.0 1890.8,336.4 1893.5,337.3 1896.4,337.9 1899.3,338.4 1902.3,338.8 1905.3,339.3 1908.1,340.0 1910.9,341.0 1913.4,342.3 1915.8,344.0 1918.0,345.9 1920.0,348.1 1921.9,350.4 1923.6,352.9 1925.2,355.5 1926.7,358.1 1928.0,360.8 1929.3,363.5 1930.6,366.2 1931.7,369.0 1932.8,371.8 1933.8,374.6 1934.8,377.5 1935.7,380.3 1936.5,383.2 1937.3,386.1 1938.1,389.0 1938.9,391.9 1939.6,394.8 1940.3,397.7 1940.9,400.6 1941.6,403.6 1942.2,406.5 1942.9,409.4 1943.5,412.4 1944.0,415.3 1944.6,418.2 1945.1,421.2 1945.6,424.1 1946.1,427.1 1946.7,430.1 1947.2,433.0 1947.7,436.0 1948.3,438.9 1948.8,441.8 1949.4,444.8 1950.0,447.7 1950.5,450.7 1951.1,453.6 1951.7,456.6 1952.3,459.5 1952.9,462.4 1953.4,465.4 1954.0,468.3 1954.5,471.3 1955.1,474.2 1955.6,477.2 1956.1,480.1 1956.5,483.1 1957.0,486.0 1957.5,489.0 1957.9,492.0 1958.4,494.9 1958.9,497.9 1959.3,500.9 1959.8,503.8 1960.3,506.8 1960.8,509.7 1961.3,512.7 1961.8,515.6 1962.3,518.6 1962.8,521.6 1963.3,524.5 1963.8,527.5 1964.2,530.4 1964.7,533.3 1965.2,536.3 1965.7,539.3 1966.2,542.2 1966.7,545.2 1967.1,548.2 1967.6,551.3 1968.2,554.3 1968.7,557.5 1969.3,560.6 1969.9,563.8 1970.6,566.8 1971.4,569.7 1972.1,572.2 1972.9,574.1 1973.8,575.2 1974.7,575.0 1975.6,573.8 1976.5,571.8 1977.5,569.3 1978.4,566.4 1979.3,563.4 1980.2,560.3 1980.9,557.2 1981.7,554.1 1982.4,551.1 1983.0,548.0 1983.7,545.1 1984.3,542.1 1984.9,539.2 1985.5,536.3 1986.1,533.3 1986.7,530.4 1987.2,527.5 1987.8,524.5 1988.3,521.6 1988.9,518.6 1989.4,515.7 1989.9,512.7 1990.3,509.8 1990.7,506.8 1991.1,503.8 1991.5,500.8 1991.9,497.9 1992.3,494.9 1992.7,491.9 1993.1,489.0 1993.5,486.0 1993.9,483.0 1994.3,480.0 1994.6,477.1 1995.0,474.1 1995.4,471.1 1995.8,468.1 1996.1,465.2 1996.5,462.2 1996.9,459.2 1997.3,456.2 1997.6,453.3 1998.0,450.3 1998.4,447.3 1998.7,444.3 1999.1,441.4 1999.5,438.4 1999.9,435.4 2000.2,432.5 2000.6,429.5 2001.0,426.5 2001.3,423.5 2001.7,420.6 2002.1,417.6 2002.4,414.6 2002.8,411.6 2003.2,408.7 2003.6,405.7 2004.0,402.7 2004.4,399.7 2004.9,396.8 2005.3,393.8 2005.8,390.9 2006.3,387.9 2006.8,385.0 2007.4,382.0 2008.0,379.1 2008.6,376.2 2009.2,373.2 2009.9,370.3 2010.5,367.4 2011.2,364.4 2011.8,361.5 2012.5,358.6 2013.2,355.7 2014.0,352.8 2014.8,349.9 2015.6,347.0 2016.5,344.2 2017.4,341.3 2018.3,338.5 2019.3,335.6 2020.2,332.8 2021.2,329.9 2022.2,327.1 2023.3,324.3 2024.4,321.5 2025.5,318.7 2026.7,316.0 2027.8,313.2 2029.1,310.5 2030.3,307.8 2031.6,305.1 2033.0,302.4 2034.3,299.7 2035.7,297.1 2037.1,294.4 2038.5,291.8 2039.9,289.1 2041.2,286.4 2042.5,283.7 2043.7,281.0 2045.0,278.3 2046.2,275.5 2047.4,272.8 2048.6,270.0 2049.8,267.3 2051.0,264.5 2052.1,261.7 2053.3,259.0 2054.4,256.2 2055.5,253.4 2056.7,250.7 2057.8,247.9 2059.0,245.1 2060.2,242.4 2061.4,239.6 2062.7,236.9 2064.0,234.2 2065.4,231.6 2066.8,228.9 2068.2,226.3 2069.7,223.7 2071.2,221.1 2072.7,218.5 2074.3,216.0 2076.1,213.6 2077.9,211.2 2079.8,208.9 2081.8,206.6 2083.8,204.4 2085.8,202.2 2087.9,200.1 2090.1,198.1 2092.5,196.2 2094.9,194.5 2097.4,192.8 2099.9,191.2 2102.5,189.7 2105.1,188.3 2107.8,186.9 2110.5,185.7 2113.3,184.6 2116.1,183.6 2119.0,182.7 2121.9,181.9 2124.7,181.1 2127.7,180.4 2130.6,179.7 2133.5,179.2 2136.5,178.7 2139.4,178.3 2142.4,178.0 2145.4,177.7 2148.4,177.4 2151.4,177.2 2154.4,177.0 2157.4,177.0 2160.3,177.1 2163.3,177.2 2166.3,177.5 2169.3,177.8 2172.3,178.2 2175.2,178.7 2178.2,179.2 2181.1,179.8 2184.0,180.5 2186.9,181.1 2189.9,181.8 2192.8,182.4 2195.7,183.0 2198.7,183.6 2201.6,184.2 2204.5,184.8 2207.5,185.4 2210.4,186.0 2213.4,186.6 2216.3,187.1 2219.3,187.7 2222.2,188.3 2225.1,188.9 2228.1,189.4 2231.0,190.0 2234.0,190.6 2236.9,191.3 2239.8,191.9 2242.7,192.6 2245.6,193.4 2248.5,194.2 2251.4,195.0 2254.2,195.9 2257.1,196.8 2260.0,197.6 2262.9,198.5 2265.7,199.4 2268.6,200.3 2271.4,201.1 2274.3,202.0 2277.2,203.0 2280.0,203.9 2282.9,204.8 2285.7,205.8 2288.5,206.8 2291.3,207.8 2294.2,208.8 2297.0,209.9 2299.8,211.0 2302.5,212.1 2305.3,213.2 2308.1,214.3 2310.9,215.4 2313.7,216.5 2316.5,217.6 2319.2,218.7 2322.0,219.9 2324.8,221.0 2327.6,222.1 2330.4,223.2 2333.2,224.3 2336.0,225.4 2338.7,226.5 2341.5,227.6 2344.3,228.7 2347.1,229.9 2349.9,231.0 2352.6,232.1 2355.4,233.2 2358.2,234.3 2361.0,235.4 2363.8,236.5 2366.6,237.6 2369.4,238.7 2372.2,239.7 2375.0,240.7 2377.8,241.7 2380.7,242.7 2383.5,243.7" stroke="#0000f5"/>
<path d="M1342.7,864.4L1345.7,864.4 1348.7,864.4 1351.7,864.4 1354.7,864.4 1357.7,864.4 1360.7,864.3 1363.7,864.3 1366.7,864.3 1369.7,864.3 1372.7,864.3 1375.7,864.3 1378.7,864.3 1381.7,864.3 1384.7,864.3 1387.7,864.3 1390.7,864.3 1393.7,864.2 1396.7,864.2 1399.7,864.2 1402.7,864.2 1405.7,864.2 1408.7,864.2 1411.7,864.2 1414.7,864.2 1417.7,864.2 1420.7,864.2 1423.7,864.2 1426.7,864.2 1429.7,864.2 1432.7,864.1 1435.7,864.1 1438.7,864.0 1441.7,863.9 1444.7,863.8 1447.7,863.6 1450.7,863.5 1453.7,863.3 1456.7,863.2 1459.7,863.0 1462.7,862.9 1465.7,862.7 1468.6,862.4 1471.6,862.1 1474.5,861.5 1477.3,860.7 1480.0,859.6 1482.6,858.3 1485.2,856.8 1487.8,855.3 1490.4,853.8 1493.0,852.4 1495.7,851.1 1498.5,850.0 1501.3,849.1 1504.2,848.4 1507.2,847.8 1510.1,847.5 1513.1,847.2 1516.1,847.0 1519.1,846.9 1522.1,846.8 1525.2,846.7 1528.2,846.6 1531.2,846.3 1534.1,846.0 1537.1,845.4 1539.9,844.7 1542.7,843.7 1545.4,842.4 1547.9,840.9 1550.3,839.1 1552.4,837.1 1554.4,834.9 1556.2,832.5 1557.9,830.0 1559.4,827.4 1560.8,824.7 1562.1,822.0 1563.3,819.2 1564.3,816.4 1565.3,813.6 1566.2,810.7 1567.1,807.9 1568.0,805.0 1568.8,802.1 1569.5,799.2 1570.2,796.3 1570.9,793.3 1571.6,790.4 1572.3,787.5 1573.0,784.6 1573.7,781.7 1574.5,778.8 1575.3,775.9 1576.1,773.0 1576.9,770.1 1577.8,767.2 1578.6,764.4 1579.3,761.5 1580.1,758.6 1580.8,755.6 1581.5,752.7 1582.1,749.8 1582.8,746.9 1583.5,744.0 1584.2,741.0 1584.8,738.1 1585.5,735.2 1586.2,732.3 1586.9,729.4 1587.6,726.4 1588.3,723.5 1589.0,720.6 1589.8,717.7 1590.5,714.8 1591.2,711.9 1591.9,709.0 1592.7,706.1 1593.4,703.2 1594.1,700.3 1594.9,697.3 1595.6,694.4 1596.3,691.5 1597.0,688.6 1597.8,685.7 1598.5,682.8 1599.2,679.9 1600.0,677.0 1600.7,674.1 1601.4,671.2 1602.1,668.3 1602.9,665.3 1603.6,662.4 1604.3,659.5 1605.0,656.6 1605.8,653.7 1606.5,650.8 1607.2,647.9 1608.0,645.0 1608.7,642.1 1609.4,639.2 1610.1,636.2 1610.9,633.3 1611.6,630.4 1612.3,627.5 1613.0,624.6 1613.7,621.7 1614.4,618.8 1615.1,615.8 1615.7,612.9 1616.4,610.0 1617.1,607.1 1617.8,604.2 1618.5,601.2 1619.2,598.3 1619.8,595.4 1620.5,592.5 1621.1,589.5 1621.7,586.6 1622.3,583.7 1622.9,580.7 1623.5,577.8 1624.0,574.8 1624.6,571.9 1625.2,568.9 1625.7,566.0 1626.3,563.1 1627.0,560.1 1627.7,557.2 1628.5,554.3 1629.4,551.4 1630.3,548.6 1631.3,545.7 1632.4,542.8 1633.5,539.9 1634.8,537.1 1636.1,534.5 1637.7,532.0 1639.6,529.9 1641.8,528.2 1644.3,527.0 1646.9,526.3 1649.6,526.3 1652.3,526.8 1654.8,528.0 1657.2,529.6 1659.5,531.6 1661.4,533.8 1663.2,536.3 1664.8,538.9 1666.3,541.5 1667.7,544.2 1669.0,547.0 1670.3,549.7 1671.5,552.5 1672.7,555.3 1673.8,558.0 1674.9,560.8 1676.0,563.6 1677.0,566.4 1678.0,569.3 1679.0,572.1 1679.9,574.9 1680.9,577.8 1681.8,580.6 1682.8,583.5 1683.7,586.3 1684.7,589.1 1685.8,592.0 1686.8,594.8 1687.9,597.6 1688.9,600.4 1690.0,603.2 1691.1,606.0 1692.2,608.8 1693.3,611.5 1694.5,614.3 1695.6,617.1 1696.8,619.8 1698.0,622.6 1699.2,625.3 1700.4,628.1 1701.6,630.8 1702.8,633.6 1704.0,636.3 1705.2,639.1 1706.4,641.8 1707.6,644.6 1708.8,647.3 1710.0,650.1 1711.2,652.8 1712.4,655.6 1713.6,658.3 1714.7,661.1 1715.8,663.9 1716.9,666.7 1718.0,669.5 1719.1,672.3 1720.1,675.1 1721.2,677.9 1722.3,680.7 1723.4,683.6 1724.6,686.4 1725.8,689.3 1727.1,692.1 1728.5,694.9 1730.0,697.5 1731.7,699.9 1733.6,701.8 1735.8,703.2 1738.1,704.0 1740.5,703.9 1743.0,703.1 1745.4,701.8 1747.9,700.0 1750.3,698.2 1752.8,696.6 1755.4,695.4 1757.9,694.7 1760.3,694.7 1762.7,695.6 1765.0,697.0 1767.2,698.9 1769.2,701.1 1771.0,703.7 1772.7,706.3 1774.5,709.1 1776.2,711.8 1778.0,714.4 1780.0,716.7 1782.1,718.7 1784.2,720.1 1786.4,720.7 1788.5,720.4 1790.5,719.3 1792.3,717.4 1793.8,715.1 1795.1,712.4 1796.1,709.5 1797.1,706.5 1797.9,703.5 1798.6,700.4 1799.4,697.4 1800.1,694.5 1800.8,691.5 1801.5,688.6 1802.1,685.7 1802.7,682.7 1803.4,679.8 1804.0,676.9 1804.6,673.9 1805.2,671.0 1805.8,668.1 1806.4,665.1 1807.0,662.2 1807.6,659.3 1808.2,656.3 1808.8,653.4 1809.3,650.4 1809.9,647.5 1810.5,644.5 1811.0,641.6 1811.6,638.7 1812.2,635.7 1812.7,632.8 1813.3,629.8 1813.9,626.9 1814.4,623.9 1815.0,621.0 1815.5,618.0 1816.0,615.1 1816.5,612.1 1816.9,609.1 1817.4,606.2 1817.9,603.2 1818.3,600.3 1818.8,597.3 1819.3,594.3 1819.8,591.4 1820.3,588.4 1820.8,585.5 1821.4,582.5 1822.0,579.6 1822.8,576.7 1823.5,573.8 1824.3,570.9 1825.1,568.1 1826.0,565.2 1826.8,562.3 1827.6,559.4 1828.5,556.5 1829.4,553.6 1830.3,550.7 1831.3,547.7 1832.4,544.8 1833.6,541.9 1834.9,539.1 1836.4,536.5 1838.1,534.1 1840.1,532.2 1842.3,530.8 1844.8,530.1 1847.3,530.2 1849.8,530.9 1852.0,532.4 1854.1,534.3 1855.8,536.6 1857.3,539.3 1858.6,542.1 1859.8,545.0 1860.9,547.9 1861.9,550.8 1862.8,553.8 1863.8,556.7 1864.6,559.6 1865.5,562.4 1866.4,565.3 1867.2,568.2 1868.0,571.1 1868.8,574.0 1869.5,576.9 1870.1,579.8 1870.7,582.7 1871.2,585.7 1871.7,588.6 1872.1,591.6 1872.5,594.6 1872.9,597.6 1873.4,600.5 1873.8,603.5 1874.2,606.5 1874.7,609.4 1875.2,612.4 1875.7,615.3 1876.3,618.3 1876.9,621.2 1877.6,624.1 1878.4,627.0 1879.1,629.9 1879.9,632.8 1880.6,635.7 1881.2,638.6 1881.8,641.6 1882.3,644.5 1882.7,647.5 1883.2,650.5 1883.6,653.4 1884.2,656.4 1884.8,659.3 1885.6,662.3 1886.4,665.2 1887.3,668.0 1888.4,670.8 1889.7,673.5 1891.2,676.0 1892.9,678.4 1894.7,680.7 1896.8,682.8 1899.1,684.6 1901.6,686.3 1904.1,687.9 1906.7,689.5 1909.2,691.1 1911.7,692.8 1914.0,694.7 1916.2,696.7 1918.1,698.9 1920.0,701.2 1921.6,703.7 1923.1,706.3 1924.5,708.9 1925.8,711.6 1927.1,714.4 1928.3,717.1 1929.4,719.9 1930.5,722.7 1931.5,725.5 1932.5,728.4 1933.5,731.2 1934.5,734.0 1935.4,736.9 1936.3,739.8 1937.1,742.6 1937.9,745.5 1938.7,748.4 1939.4,751.3 1940.2,754.2 1940.9,757.2 1941.6,760.1 1942.3,763.0 1943.1,765.9 1943.8,768.8 1944.5,771.7 1945.2,774.6 1946.0,777.5 1946.7,780.4 1947.4,783.3 1948.1,786.3 1948.9,789.2 1949.6,792.1 1950.3,795.0 1951.0,797.9 1951.7,800.8 1952.3,803.7 1953.0,806.7 1953.7,809.6 1954.4,812.5 1955.1,815.4 1955.9,818.3 1956.7,821.2 1957.6,824.1 1958.6,826.9 1959.6,829.8 1960.8,832.7 1962.0,835.6 1963.4,838.4 1964.9,841.2 1966.6,843.8 1968.3,846.2 1970.2,848.3 1972.1,849.9 1974.1,850.8 1976.0,850.8 1977.8,849.9 1979.6,848.2 1981.2,845.9 1982.7,843.3 1983.9,840.5 1985.0,837.6 1985.9,834.6 1986.8,831.6 1987.6,828.6 1988.5,825.7 1989.2,822.8 1990.0,819.8 1990.7,816.9 1991.3,814.0 1991.9,811.1 1992.4,808.1 1992.9,805.2 1993.3,802.2 1993.8,799.2 1994.2,796.3 1994.7,793.3 1995.1,790.3 1995.6,787.4 1996.0,784.4 1996.5,781.4 1996.9,778.5 1997.3,775.5 1997.8,772.5 1998.2,769.6 1998.6,766.6 1999.0,763.6 1999.4,760.7 1999.8,757.7 2000.2,754.7 2000.6,751.7 2001.0,748.8 2001.4,745.8 2001.8,742.8 2002.2,739.8 2002.6,736.9 2002.9,733.9 2003.3,730.9 2003.7,728.0 2004.1,725.0 2004.5,722.0 2004.9,719.0 2005.3,716.1 2005.7,713.1 2006.1,710.1 2006.5,707.1 2006.9,704.2 2007.3,701.2 2007.7,698.2 2008.1,695.3 2008.5,692.3 2008.9,689.3 2009.3,686.3 2009.7,683.4 2010.1,680.4 2010.5,677.4 2010.9,674.5 2011.3,671.5 2011.8,668.5 2012.2,665.5 2012.6,662.6 2013.0,659.6 2013.4,656.6 2013.9,653.7 2014.3,650.7 2014.7,647.7 2015.1,644.8 2015.6,641.8 2016.0,638.8 2016.4,635.9 2016.9,632.9 2017.3,629.9 2017.7,627.0 2018.2,624.0 2018.6,621.0 2019.1,618.1 2019.5,615.1 2020.0,612.1 2020.4,609.2 2020.8,606.2 2021.3,603.2 2021.7,600.3 2022.2,597.3 2022.6,594.3 2023.1,591.4 2023.6,588.4 2024.2,585.5 2024.8,582.6 2025.5,579.6 2026.2,576.7 2026.8,573.8 2027.5,570.9 2028.2,567.9 2028.9,565.0 2029.6,562.1 2030.2,559.2 2030.9,556.3 2031.6,553.3 2032.3,550.4 2032.9,547.5 2033.6,544.6 2034.2,541.6 2034.9,538.7 2035.5,535.8 2036.2,532.9 2036.8,529.9 2037.5,527.0 2038.2,524.1 2038.8,521.1 2039.5,518.2 2040.1,515.3 2040.8,512.4 2041.5,509.5 2042.2,506.5 2042.9,503.6 2043.6,500.7 2044.4,497.8 2045.1,494.9 2045.8,492.0 2046.6,489.1 2047.3,486.2 2048.0,483.3 2048.8,480.4 2049.5,477.5 2050.2,474.5 2050.9,471.6 2051.6,468.7 2052.3,465.8 2052.8,462.8 2053.4,459.9 2053.9,456.9 2054.5,454.0 2055.0,451.0 2055.5,448.1 2056.0,445.1 2056.5,442.2 2057.0,439.2 2057.5,436.3 2058.0,433.3 2058.6,430.4 2059.1,427.4 2059.6,424.4 2060.2,421.5 2060.7,418.6 2061.3,415.6 2061.8,412.7 2062.4,409.7 2063.0,406.8 2063.6,403.8 2064.2,400.9 2064.8,398.0 2065.5,395.0 2066.2,392.1 2066.9,389.2 2067.7,386.3 2068.4,383.4 2069.2,380.5 2070.0,377.6 2070.8,374.7 2071.6,371.8 2072.4,369.0 2073.2,366.1 2074.1,363.2 2075.0,360.3 2075.8,357.5 2076.7,354.6 2077.6,351.7 2078.5,348.9 2079.5,346.0 2080.5,343.2 2081.5,340.4 2082.6,337.6 2083.7,334.8 2084.9,332.1 2086.0,329.3 2087.2,326.5 2088.4,323.8 2089.7,321.1 2091.0,318.4 2092.4,315.7 2093.8,313.1 2095.2,310.5 2096.7,307.9 2098.3,305.3 2099.8,302.7 2101.4,300.2 2103.1,297.7 2104.8,295.2 2106.6,292.8 2108.4,290.4 2110.2,288.0 2112.1,285.7 2113.9,283.3 2115.8,281.0 2117.8,278.7 2119.7,276.4 2121.7,274.2 2123.7,271.9 2125.8,269.8 2128.0,267.7 2130.2,265.7 2132.6,263.8 2135.0,262.1 2137.5,260.5 2140.1,259.2 2142.8,258.1 2145.6,257.2 2148.5,256.6 2151.5,256.0 2154.4,255.6 2157.4,255.3 2160.4,255.0 2163.4,254.8 2166.4,254.7 2169.4,254.5 2172.5,254.4 2175.5,254.4 2178.5,254.4 2181.5,254.4 2184.4,254.5 2187.4,254.6 2190.4,254.8 2193.4,255.0 2196.4,255.3 2199.4,255.6 2202.4,255.9 2205.3,256.3 2208.3,256.7 2211.3,257.1 2214.3,257.5 2217.2,258.0 2220.2,258.4 2223.2,258.8 2226.1,259.1 2229.1,259.5 2232.1,259.8 2235.1,260.1 2238.1,260.4 2241.0,260.7 2244.0,261.1 2247.0,261.4 2250.0,261.6 2253.0,261.9 2256.0,262.2 2259.0,262.4 2262.0,262.5 2265.0,262.6 2267.9,262.7 2270.9,262.7 2273.9,262.7 2276.9,262.6 2279.9,262.4 2282.9,262.2 2285.9,261.9 2288.9,261.6 2291.9,261.3 2294.8,260.8 2297.8,260.3 2300.7,259.7 2303.6,259.0 2306.5,258.3 2309.4,257.5 2312.3,256.7 2315.2,255.9 2318.1,255.0 2320.9,254.0 2323.7,253.0 2326.6,252.0 2329.4,251.0 2332.2,249.9 2335.0,248.9 2337.8,247.8 2340.6,246.6 2343.3,245.5 2346.1,244.4 2348.9,243.3 2351.7,242.3 2354.5,241.2 2357.4,240.2 2360.2,239.2 2363.0,238.3 2365.9,237.4 2368.8,236.6 2371.7,235.9 2374.6,235.3 2377.6,234.8 2380.5,234.2 2383.5,233.7" stroke="#00f5f5"/>
</g>
<g font-family='"Liberation Sans", Arial, Helvetica, sans-serif' font-weight="bold" font-size="36" fill="#000"><text x="1315.2" y="876.8" text-anchor="end">0</text><text x="1315.2" y="709.2" text-anchor="end">20</text><text x="1315.2" y="541.6" text-anchor="end">40</text><text x="1315.2" y="374.0" text-anchor="end">60</text><text x="1315.2" y="206.4" text-anchor="end">80</text><text x="1315.2" y="38.8" text-anchor="end">100</text><text x="1342.7" y="923.0" text-anchor="middle">200</text><text x="1603.1" y="923.0" text-anchor="middle">400</text><text x="1863.4" y="923.0" text-anchor="middle">600</text><text x="2123.8" y="923.0" text-anchor="middle">800</text><text x="2384.2" y="923.0" text-anchor="middle">1000</text></g>

<g font-family='"Liberation Sans", Arial, Helvetica, sans-serif' fill="#000">
<text x="1863.6" y="976.5" font-size="44" font-weight="bold" text-anchor="middle">Wavelength (nm)</text>
<text transform="translate(1255.5,428.5) rotate(-90)" font-size="44" font-weight="bold" text-anchor="middle">Transmittance (%)</text>
<text x="2124" y="568.3" font-size="41.5" textLength="189" lengthAdjust="spacingAndGlyphs">ITO/glass</text>
<text x="2247" y="624" font-size="44">P0</text>
<text x="2247" y="677.5" font-size="44">P1</text>
<text x="2247" y="731" font-size="44">P2</text>
<text x="2247" y="784.5" font-size="44">P3</text>
<text x="2247" y="838" font-size="44">P4</text>
<text x="1353" y="839.5" font-size="71">(b)</text>
</g>
<g stroke-width="6" stroke-linecap="round">
<line x1="2137" y1="609.2" x2="2235" y2="609.2" stroke="#000000"/>
<line x1="2137" y1="663" x2="2235" y2="663" stroke="#fa0000"/>
<line x1="2137" y1="716.5" x2="2235" y2="716.5" stroke="#00f200"/>
<line x1="2137" y1="770.2" x2="2235" y2="770.2" stroke="#0000f5"/>
<line x1="2137" y1="823.5" x2="2235" y2="823.5" stroke="#00f5f5"/>
</g>

</svg>
</body></html>
